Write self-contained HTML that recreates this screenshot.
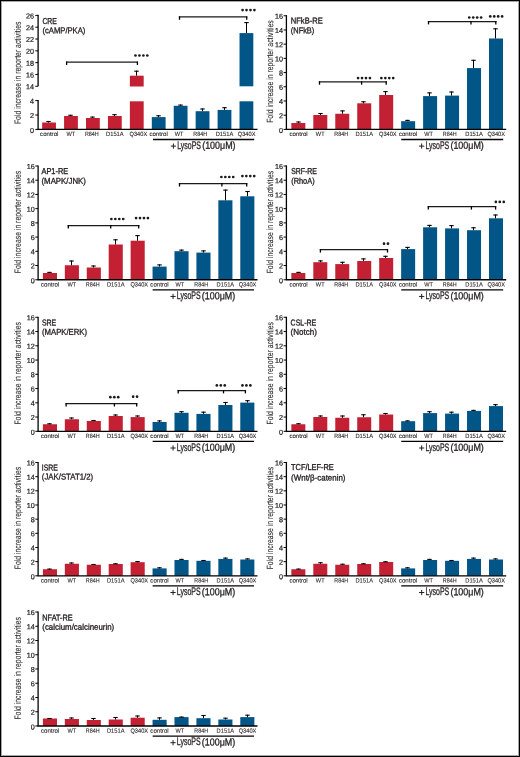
<!DOCTYPE html>
<html><head><meta charset="utf-8"><title>Reporter activities</title>
<style>
html,body{margin:0;padding:0;background:#fff;}
body{width:520px;height:757px;overflow:hidden;position:relative;}
svg{position:absolute;left:0;top:0;display:block;will-change:transform;}
text{font-family:"Liberation Sans", sans-serif;}
</style></head><body>
<svg width="520" height="757" viewBox="0 0 520 757">
<rect x="0" y="0" width="520" height="757" fill="#fff"/>
<rect x="42.15" y="122.50" width="13.80" height="6.90" fill="#c32034"/>
<line x1="48.50" y1="122.50" x2="48.50" y2="121.00" stroke="#000" stroke-width="1.0"/>
<line x1="46.30" y1="121.50" x2="50.70" y2="121.50" stroke="#000" stroke-width="1.1"/>
<rect x="64.08" y="116.00" width="13.80" height="13.40" fill="#c32034"/>
<line x1="70.50" y1="116.00" x2="70.50" y2="114.80" stroke="#000" stroke-width="1.0"/>
<line x1="68.30" y1="115.30" x2="72.70" y2="115.30" stroke="#000" stroke-width="1.1"/>
<rect x="86.01" y="118.00" width="13.80" height="11.40" fill="#c32034"/>
<line x1="92.50" y1="118.00" x2="92.50" y2="116.60" stroke="#000" stroke-width="1.0"/>
<line x1="90.30" y1="117.10" x2="94.70" y2="117.10" stroke="#000" stroke-width="1.1"/>
<rect x="107.94" y="116.00" width="13.80" height="13.40" fill="#c32034"/>
<line x1="114.50" y1="116.00" x2="114.50" y2="114.20" stroke="#000" stroke-width="1.0"/>
<line x1="112.30" y1="114.70" x2="116.70" y2="114.70" stroke="#000" stroke-width="1.1"/>
<rect x="129.87" y="75.70" width="13.80" height="10.80" fill="#c32034"/>
<rect x="129.87" y="101.30" width="13.80" height="28.10" fill="#c32034"/>
<line x1="136.50" y1="75.70" x2="136.50" y2="70.70" stroke="#000" stroke-width="1.0"/>
<line x1="134.30" y1="71.20" x2="138.70" y2="71.20" stroke="#000" stroke-width="1.1"/>
<rect x="151.80" y="117.10" width="13.80" height="12.30" fill="#025687"/>
<line x1="158.50" y1="117.10" x2="158.50" y2="115.30" stroke="#000" stroke-width="1.0"/>
<line x1="156.30" y1="115.80" x2="160.70" y2="115.80" stroke="#000" stroke-width="1.1"/>
<rect x="173.73" y="105.80" width="13.80" height="23.60" fill="#025687"/>
<line x1="180.50" y1="105.80" x2="180.50" y2="104.60" stroke="#000" stroke-width="1.0"/>
<line x1="178.30" y1="105.10" x2="182.70" y2="105.10" stroke="#000" stroke-width="1.1"/>
<rect x="195.66" y="111.20" width="13.80" height="18.20" fill="#025687"/>
<line x1="202.50" y1="111.20" x2="202.50" y2="108.50" stroke="#000" stroke-width="1.0"/>
<line x1="200.30" y1="109.00" x2="204.70" y2="109.00" stroke="#000" stroke-width="1.1"/>
<rect x="217.59" y="109.90" width="13.80" height="19.50" fill="#025687"/>
<line x1="224.50" y1="109.90" x2="224.50" y2="107.20" stroke="#000" stroke-width="1.0"/>
<line x1="222.30" y1="107.70" x2="226.70" y2="107.70" stroke="#000" stroke-width="1.1"/>
<rect x="239.52" y="33.10" width="13.80" height="53.20" fill="#025687"/>
<rect x="239.52" y="101.30" width="13.80" height="28.10" fill="#025687"/>
<line x1="246.50" y1="33.10" x2="246.50" y2="22.10" stroke="#000" stroke-width="1.0"/>
<line x1="244.30" y1="22.60" x2="248.70" y2="22.60" stroke="#000" stroke-width="1.1"/>
<line x1="38.10" y1="14.80" x2="38.10" y2="86.25" stroke="#000" stroke-width="1.3"/>
<line x1="38.10" y1="100.00" x2="38.10" y2="129.40" stroke="#000" stroke-width="1.3"/>
<line x1="35.30" y1="129.40" x2="38.10" y2="129.40" stroke="#000" stroke-width="1.0"/>
<text x="34.10" y="132.95" font-size="7.2" text-anchor="end" fill="#231f20" stroke="#231f20" stroke-width="0.22" transform="rotate(0.04 34.10 132.95)">0</text>
<line x1="35.30" y1="115.00" x2="38.10" y2="115.00" stroke="#000" stroke-width="1.0"/>
<text x="34.10" y="118.05" font-size="7.2" text-anchor="end" fill="#231f20" stroke="#231f20" stroke-width="0.22" transform="rotate(0.04 34.10 118.05)">2</text>
<line x1="35.30" y1="100.60" x2="38.10" y2="100.60" stroke="#000" stroke-width="1.0"/>
<text x="34.10" y="103.65" font-size="7.2" text-anchor="end" fill="#231f20" stroke="#231f20" stroke-width="0.22" transform="rotate(0.04 34.10 103.65)">4</text>
<line x1="35.30" y1="86.25" x2="38.10" y2="86.25" stroke="#000" stroke-width="1.0"/>
<text x="34.10" y="89.30" font-size="7.2" text-anchor="end" fill="#231f20" stroke="#231f20" stroke-width="0.22" transform="rotate(0.04 34.10 89.30)">14</text>
<line x1="35.30" y1="74.44" x2="38.10" y2="74.44" stroke="#000" stroke-width="1.0"/>
<text x="34.10" y="77.49" font-size="7.2" text-anchor="end" fill="#231f20" stroke="#231f20" stroke-width="0.22" transform="rotate(0.04 34.10 77.49)">16</text>
<line x1="35.30" y1="62.63" x2="38.10" y2="62.63" stroke="#000" stroke-width="1.0"/>
<text x="34.10" y="65.68" font-size="7.2" text-anchor="end" fill="#231f20" stroke="#231f20" stroke-width="0.22" transform="rotate(0.04 34.10 65.68)">18</text>
<line x1="35.30" y1="50.83" x2="38.10" y2="50.83" stroke="#000" stroke-width="1.0"/>
<text x="34.10" y="53.88" font-size="7.2" text-anchor="end" fill="#231f20" stroke="#231f20" stroke-width="0.22" transform="rotate(0.04 34.10 53.88)">20</text>
<line x1="35.30" y1="39.02" x2="38.10" y2="39.02" stroke="#000" stroke-width="1.0"/>
<text x="34.10" y="42.07" font-size="7.2" text-anchor="end" fill="#231f20" stroke="#231f20" stroke-width="0.22" transform="rotate(0.04 34.10 42.07)">22</text>
<line x1="35.30" y1="27.21" x2="38.10" y2="27.21" stroke="#000" stroke-width="1.0"/>
<text x="34.10" y="30.26" font-size="7.2" text-anchor="end" fill="#231f20" stroke="#231f20" stroke-width="0.22" transform="rotate(0.04 34.10 30.26)">24</text>
<line x1="35.30" y1="15.40" x2="38.10" y2="15.40" stroke="#000" stroke-width="1.0"/>
<text x="34.10" y="18.45" font-size="7.2" text-anchor="end" fill="#231f20" stroke="#231f20" stroke-width="0.22" transform="rotate(0.04 34.10 18.45)">26</text>
<line x1="37.45" y1="129.40" x2="257.50" y2="129.40" stroke="#000" stroke-width="1.3"/>
<text x="49.25" y="136.10" font-size="6.2" text-anchor="middle" textLength="18.30" lengthAdjust="spacingAndGlyphs" fill="#231f20" stroke="#231f20" stroke-width="0.1" transform="rotate(0.04 49.25 136.10)">control</text>
<text x="70.88" y="136.10" font-size="6.2" text-anchor="middle" textLength="8.70" lengthAdjust="spacingAndGlyphs" fill="#231f20" stroke="#231f20" stroke-width="0.1" transform="rotate(0.04 70.88 136.10)">WT</text>
<text x="91.81" y="136.10" font-size="6.2" text-anchor="middle" textLength="13.80" lengthAdjust="spacingAndGlyphs" fill="#231f20" stroke="#231f20" stroke-width="0.1" transform="rotate(0.04 91.81 136.10)">R84H</text>
<text x="114.84" y="136.10" font-size="6.2" text-anchor="middle" textLength="17.60" lengthAdjust="spacingAndGlyphs" fill="#231f20" stroke="#231f20" stroke-width="0.1" transform="rotate(0.04 114.84 136.10)">D151A</text>
<text x="138.37" y="136.10" font-size="6.2" text-anchor="middle" textLength="17.60" lengthAdjust="spacingAndGlyphs" fill="#231f20" stroke="#231f20" stroke-width="0.1" transform="rotate(0.04 138.37 136.10)">Q340X</text>
<text x="158.60" y="136.10" font-size="6.2" text-anchor="middle" textLength="18.30" lengthAdjust="spacingAndGlyphs" fill="#231f20" stroke="#231f20" stroke-width="0.1" transform="rotate(0.04 158.60 136.10)">control</text>
<text x="179.03" y="136.10" font-size="6.2" text-anchor="middle" textLength="8.70" lengthAdjust="spacingAndGlyphs" fill="#231f20" stroke="#231f20" stroke-width="0.1" transform="rotate(0.04 179.03 136.10)">WT</text>
<text x="200.26" y="136.10" font-size="6.2" text-anchor="middle" textLength="13.80" lengthAdjust="spacingAndGlyphs" fill="#231f20" stroke="#231f20" stroke-width="0.1" transform="rotate(0.04 200.26 136.10)">R84H</text>
<text x="224.49" y="136.10" font-size="6.2" text-anchor="middle" textLength="17.60" lengthAdjust="spacingAndGlyphs" fill="#231f20" stroke="#231f20" stroke-width="0.1" transform="rotate(0.04 224.49 136.10)">D151A</text>
<text x="246.62" y="136.10" font-size="6.2" text-anchor="middle" textLength="17.60" lengthAdjust="spacingAndGlyphs" fill="#231f20" stroke="#231f20" stroke-width="0.1" transform="rotate(0.04 246.62 136.10)">Q340X</text>
<line x1="153.00" y1="139.50" x2="254.22" y2="139.50" stroke="#000" stroke-width="1.3"/>
<line x1="170.80" y1="146.10" x2="176.00" y2="146.10" stroke="#231f20" stroke-width="1.0"/>
<line x1="173.40" y1="143.50" x2="173.40" y2="148.70" stroke="#231f20" stroke-width="1.0"/>
<text x="177.20" y="148.80" font-size="10.9" text-anchor="start" textLength="23.80" lengthAdjust="spacingAndGlyphs" fill="#231f20" stroke="#231f20" stroke-width="0.3" transform="rotate(0.04 177.20 148.80)">LysoPS</text>
<text x="202.20" y="148.80" font-size="10.2" text-anchor="start" textLength="33.40" lengthAdjust="spacingAndGlyphs" fill="#231f20" stroke="#231f20" stroke-width="0.3" transform="rotate(0.04 202.20 148.80)">(100μM)</text>
<text transform="translate(20.70,72.85) rotate(-89.96)" x="0" y="0" font-size="9.0" text-anchor="middle" textLength="102.5" lengthAdjust="spacingAndGlyphs" fill="#2a2a2a" stroke="#2a2a2a" stroke-width="0.1">Fold increase in reporter activities</text>
<text x="42.40" y="23.90" font-size="8.6" text-anchor="start" textLength="14.40" lengthAdjust="spacingAndGlyphs" fill="#231f20" stroke="#231f20" stroke-width="0.35" transform="rotate(0.04 42.40 23.90)">CRE</text>
<text x="42.40" y="33.30" font-size="8.4" text-anchor="start" textLength="43.00" lengthAdjust="spacingAndGlyphs" fill="#231f20" stroke="#231f20" stroke-width="0.32" transform="rotate(0.04 42.40 33.30)">(cAMP/PKA)</text>
<line x1="66.00" y1="62.10" x2="138.00" y2="62.10" stroke="#1a1a1a" stroke-width="1.25"/>
<line x1="66.60" y1="61.60" x2="66.60" y2="65.00" stroke="#000" stroke-width="1.3"/>
<line x1="137.40" y1="61.60" x2="137.40" y2="65.00" stroke="#000" stroke-width="1.3"/>
<line x1="178.90" y1="16.90" x2="247.30" y2="16.90" stroke="#1a1a1a" stroke-width="1.25"/>
<line x1="179.50" y1="16.40" x2="179.50" y2="19.80" stroke="#000" stroke-width="1.3"/>
<line x1="246.70" y1="16.40" x2="246.70" y2="19.80" stroke="#000" stroke-width="1.3"/>
<circle cx="135.47" cy="55.50" r="1.35" fill="#1a1a1a"/>
<circle cx="139.42" cy="55.50" r="1.35" fill="#1a1a1a"/>
<circle cx="143.38" cy="55.50" r="1.35" fill="#1a1a1a"/>
<circle cx="147.32" cy="55.50" r="1.35" fill="#1a1a1a"/>
<circle cx="242.57" cy="10.10" r="1.35" fill="#1a1a1a"/>
<circle cx="246.52" cy="10.10" r="1.35" fill="#1a1a1a"/>
<circle cx="250.47" cy="10.10" r="1.35" fill="#1a1a1a"/>
<circle cx="254.42" cy="10.10" r="1.35" fill="#1a1a1a"/>
<rect x="291.35" y="123.00" width="14.00" height="6.40" fill="#c32034"/>
<line x1="298.50" y1="123.00" x2="298.50" y2="121.50" stroke="#000" stroke-width="1.0"/>
<line x1="296.30" y1="122.00" x2="300.70" y2="122.00" stroke="#000" stroke-width="1.1"/>
<rect x="313.31" y="115.00" width="14.00" height="14.40" fill="#c32034"/>
<line x1="320.50" y1="115.00" x2="320.50" y2="113.00" stroke="#000" stroke-width="1.0"/>
<line x1="318.30" y1="113.50" x2="322.70" y2="113.50" stroke="#000" stroke-width="1.1"/>
<rect x="335.27" y="113.75" width="14.00" height="15.65" fill="#c32034"/>
<line x1="342.50" y1="113.75" x2="342.50" y2="110.40" stroke="#000" stroke-width="1.0"/>
<line x1="340.30" y1="110.90" x2="344.70" y2="110.90" stroke="#000" stroke-width="1.1"/>
<rect x="357.23" y="103.30" width="14.00" height="26.10" fill="#c32034"/>
<line x1="363.50" y1="103.30" x2="363.50" y2="101.30" stroke="#000" stroke-width="1.0"/>
<line x1="361.30" y1="101.80" x2="365.70" y2="101.80" stroke="#000" stroke-width="1.1"/>
<rect x="379.19" y="95.00" width="14.00" height="34.40" fill="#c32034"/>
<line x1="385.50" y1="95.00" x2="385.50" y2="91.10" stroke="#000" stroke-width="1.0"/>
<line x1="383.30" y1="91.60" x2="387.70" y2="91.60" stroke="#000" stroke-width="1.1"/>
<rect x="401.15" y="121.20" width="14.00" height="8.20" fill="#025687"/>
<line x1="407.50" y1="121.20" x2="407.50" y2="119.90" stroke="#000" stroke-width="1.0"/>
<line x1="405.30" y1="120.40" x2="409.70" y2="120.40" stroke="#000" stroke-width="1.1"/>
<rect x="423.11" y="96.10" width="14.00" height="33.30" fill="#025687"/>
<line x1="429.50" y1="96.10" x2="429.50" y2="92.40" stroke="#000" stroke-width="1.0"/>
<line x1="427.30" y1="92.90" x2="431.70" y2="92.90" stroke="#000" stroke-width="1.1"/>
<rect x="445.07" y="95.60" width="14.00" height="33.80" fill="#025687"/>
<line x1="451.50" y1="95.60" x2="451.50" y2="91.50" stroke="#000" stroke-width="1.0"/>
<line x1="449.30" y1="92.00" x2="453.70" y2="92.00" stroke="#000" stroke-width="1.1"/>
<rect x="467.03" y="68.10" width="14.00" height="61.30" fill="#025687"/>
<line x1="473.50" y1="68.10" x2="473.50" y2="59.80" stroke="#000" stroke-width="1.0"/>
<line x1="471.30" y1="60.30" x2="475.70" y2="60.30" stroke="#000" stroke-width="1.1"/>
<rect x="488.99" y="38.50" width="14.00" height="90.90" fill="#025687"/>
<line x1="495.50" y1="38.50" x2="495.50" y2="28.30" stroke="#000" stroke-width="1.0"/>
<line x1="493.30" y1="28.80" x2="497.70" y2="28.80" stroke="#000" stroke-width="1.1"/>
<line x1="286.40" y1="15.15" x2="286.40" y2="129.40" stroke="#000" stroke-width="1.3"/>
<line x1="283.60" y1="129.40" x2="286.40" y2="129.40" stroke="#000" stroke-width="1.0"/>
<text x="283.00" y="132.95" font-size="7.2" text-anchor="end" fill="#231f20" stroke="#231f20" stroke-width="0.22" transform="rotate(0.04 283.00 132.95)">0</text>
<line x1="283.60" y1="115.19" x2="286.40" y2="115.19" stroke="#000" stroke-width="1.0"/>
<text x="283.00" y="118.24" font-size="7.2" text-anchor="end" fill="#231f20" stroke="#231f20" stroke-width="0.22" transform="rotate(0.04 283.00 118.24)">2</text>
<line x1="283.60" y1="100.99" x2="286.40" y2="100.99" stroke="#000" stroke-width="1.0"/>
<text x="283.00" y="104.04" font-size="7.2" text-anchor="end" fill="#231f20" stroke="#231f20" stroke-width="0.22" transform="rotate(0.04 283.00 104.04)">4</text>
<line x1="283.60" y1="86.78" x2="286.40" y2="86.78" stroke="#000" stroke-width="1.0"/>
<text x="283.00" y="89.83" font-size="7.2" text-anchor="end" fill="#231f20" stroke="#231f20" stroke-width="0.22" transform="rotate(0.04 283.00 89.83)">6</text>
<line x1="283.60" y1="72.58" x2="286.40" y2="72.58" stroke="#000" stroke-width="1.0"/>
<text x="283.00" y="75.62" font-size="7.2" text-anchor="end" fill="#231f20" stroke="#231f20" stroke-width="0.22" transform="rotate(0.04 283.00 75.62)">8</text>
<line x1="283.60" y1="58.37" x2="286.40" y2="58.37" stroke="#000" stroke-width="1.0"/>
<text x="283.00" y="61.42" font-size="7.2" text-anchor="end" fill="#231f20" stroke="#231f20" stroke-width="0.22" transform="rotate(0.04 283.00 61.42)">10</text>
<line x1="283.60" y1="44.16" x2="286.40" y2="44.16" stroke="#000" stroke-width="1.0"/>
<text x="283.00" y="47.21" font-size="7.2" text-anchor="end" fill="#231f20" stroke="#231f20" stroke-width="0.22" transform="rotate(0.04 283.00 47.21)">12</text>
<line x1="283.60" y1="29.96" x2="286.40" y2="29.96" stroke="#000" stroke-width="1.0"/>
<text x="283.00" y="33.01" font-size="7.2" text-anchor="end" fill="#231f20" stroke="#231f20" stroke-width="0.22" transform="rotate(0.04 283.00 33.01)">14</text>
<line x1="283.60" y1="15.75" x2="286.40" y2="15.75" stroke="#000" stroke-width="1.0"/>
<text x="283.00" y="18.80" font-size="7.2" text-anchor="end" fill="#231f20" stroke="#231f20" stroke-width="0.22" transform="rotate(0.04 283.00 18.80)">16</text>
<line x1="285.75" y1="129.40" x2="506.20" y2="129.40" stroke="#000" stroke-width="1.3"/>
<text x="298.55" y="136.10" font-size="6.2" text-anchor="middle" textLength="18.30" lengthAdjust="spacingAndGlyphs" fill="#231f20" stroke="#231f20" stroke-width="0.1" transform="rotate(0.04 298.55 136.10)">control</text>
<text x="320.21" y="136.10" font-size="6.2" text-anchor="middle" textLength="8.70" lengthAdjust="spacingAndGlyphs" fill="#231f20" stroke="#231f20" stroke-width="0.1" transform="rotate(0.04 320.21 136.10)">WT</text>
<text x="341.17" y="136.10" font-size="6.2" text-anchor="middle" textLength="13.80" lengthAdjust="spacingAndGlyphs" fill="#231f20" stroke="#231f20" stroke-width="0.1" transform="rotate(0.04 341.17 136.10)">R84H</text>
<text x="364.23" y="136.10" font-size="6.2" text-anchor="middle" textLength="17.60" lengthAdjust="spacingAndGlyphs" fill="#231f20" stroke="#231f20" stroke-width="0.1" transform="rotate(0.04 364.23 136.10)">D151A</text>
<text x="387.79" y="136.10" font-size="6.2" text-anchor="middle" textLength="17.60" lengthAdjust="spacingAndGlyphs" fill="#231f20" stroke="#231f20" stroke-width="0.1" transform="rotate(0.04 387.79 136.10)">Q340X</text>
<text x="408.05" y="136.10" font-size="6.2" text-anchor="middle" textLength="18.30" lengthAdjust="spacingAndGlyphs" fill="#231f20" stroke="#231f20" stroke-width="0.1" transform="rotate(0.04 408.05 136.10)">control</text>
<text x="428.51" y="136.10" font-size="6.2" text-anchor="middle" textLength="8.70" lengthAdjust="spacingAndGlyphs" fill="#231f20" stroke="#231f20" stroke-width="0.1" transform="rotate(0.04 428.51 136.10)">WT</text>
<text x="449.77" y="136.10" font-size="6.2" text-anchor="middle" textLength="13.80" lengthAdjust="spacingAndGlyphs" fill="#231f20" stroke="#231f20" stroke-width="0.1" transform="rotate(0.04 449.77 136.10)">R84H</text>
<text x="474.03" y="136.10" font-size="6.2" text-anchor="middle" textLength="17.60" lengthAdjust="spacingAndGlyphs" fill="#231f20" stroke="#231f20" stroke-width="0.1" transform="rotate(0.04 474.03 136.10)">D151A</text>
<text x="496.19" y="136.10" font-size="6.2" text-anchor="middle" textLength="17.60" lengthAdjust="spacingAndGlyphs" fill="#231f20" stroke="#231f20" stroke-width="0.1" transform="rotate(0.04 496.19 136.10)">Q340X</text>
<line x1="401.25" y1="139.50" x2="503.19" y2="139.50" stroke="#000" stroke-width="1.3"/>
<line x1="419.05" y1="146.10" x2="424.25" y2="146.10" stroke="#231f20" stroke-width="1.0"/>
<line x1="421.65" y1="143.50" x2="421.65" y2="148.70" stroke="#231f20" stroke-width="1.0"/>
<text x="425.45" y="148.80" font-size="10.9" text-anchor="start" textLength="23.80" lengthAdjust="spacingAndGlyphs" fill="#231f20" stroke="#231f20" stroke-width="0.3" transform="rotate(0.04 425.45 148.80)">LysoPS</text>
<text x="450.45" y="148.80" font-size="10.2" text-anchor="start" textLength="33.40" lengthAdjust="spacingAndGlyphs" fill="#231f20" stroke="#231f20" stroke-width="0.3" transform="rotate(0.04 450.45 148.80)">(100μM)</text>
<text transform="translate(273.10,71.60) rotate(-89.96)" x="0" y="0" font-size="9.0" text-anchor="middle" textLength="102.5" lengthAdjust="spacingAndGlyphs" fill="#2a2a2a" stroke="#2a2a2a" stroke-width="0.1">Fold increase in reporter activities</text>
<text x="290.80" y="23.60" font-size="8.6" text-anchor="start" textLength="31.90" lengthAdjust="spacingAndGlyphs" fill="#231f20" stroke="#231f20" stroke-width="0.35" transform="rotate(0.04 290.80 23.60)">NFkB-RE</text>
<text x="290.80" y="33.20" font-size="8.4" text-anchor="start" textLength="23.50" lengthAdjust="spacingAndGlyphs" fill="#231f20" stroke="#231f20" stroke-width="0.32" transform="rotate(0.04 290.80 33.20)">(NFkB)</text>
<line x1="318.90" y1="81.80" x2="386.80" y2="81.80" stroke="#1a1a1a" stroke-width="1.25"/>
<line x1="319.50" y1="81.30" x2="319.50" y2="84.70" stroke="#000" stroke-width="1.3"/>
<line x1="361.60" y1="81.30" x2="361.60" y2="84.70" stroke="#000" stroke-width="1.3"/>
<line x1="386.20" y1="81.30" x2="386.20" y2="84.70" stroke="#000" stroke-width="1.3"/>
<line x1="427.90" y1="21.50" x2="496.40" y2="21.50" stroke="#1a1a1a" stroke-width="1.25"/>
<line x1="428.50" y1="21.00" x2="428.50" y2="24.40" stroke="#000" stroke-width="1.3"/>
<line x1="471.00" y1="21.00" x2="471.00" y2="24.40" stroke="#000" stroke-width="1.3"/>
<line x1="495.80" y1="21.00" x2="495.80" y2="24.40" stroke="#000" stroke-width="1.3"/>
<circle cx="358.07" cy="78.10" r="1.35" fill="#1a1a1a"/>
<circle cx="362.02" cy="78.10" r="1.35" fill="#1a1a1a"/>
<circle cx="365.97" cy="78.10" r="1.35" fill="#1a1a1a"/>
<circle cx="369.93" cy="78.10" r="1.35" fill="#1a1a1a"/>
<circle cx="381.38" cy="78.10" r="1.35" fill="#1a1a1a"/>
<circle cx="385.32" cy="78.10" r="1.35" fill="#1a1a1a"/>
<circle cx="389.27" cy="78.10" r="1.35" fill="#1a1a1a"/>
<circle cx="393.23" cy="78.10" r="1.35" fill="#1a1a1a"/>
<circle cx="469.27" cy="17.50" r="1.35" fill="#1a1a1a"/>
<circle cx="473.22" cy="17.50" r="1.35" fill="#1a1a1a"/>
<circle cx="477.17" cy="17.50" r="1.35" fill="#1a1a1a"/>
<circle cx="481.12" cy="17.50" r="1.35" fill="#1a1a1a"/>
<circle cx="490.27" cy="16.40" r="1.35" fill="#1a1a1a"/>
<circle cx="494.22" cy="16.40" r="1.35" fill="#1a1a1a"/>
<circle cx="498.17" cy="16.40" r="1.35" fill="#1a1a1a"/>
<circle cx="502.12" cy="16.40" r="1.35" fill="#1a1a1a"/>
<rect x="42.90" y="273.00" width="14.10" height="6.75" fill="#c32034"/>
<line x1="49.50" y1="273.00" x2="49.50" y2="271.90" stroke="#000" stroke-width="1.0"/>
<line x1="47.30" y1="272.40" x2="51.70" y2="272.40" stroke="#000" stroke-width="1.1"/>
<rect x="64.83" y="265.25" width="14.10" height="14.50" fill="#c32034"/>
<line x1="71.50" y1="265.25" x2="71.50" y2="260.50" stroke="#000" stroke-width="1.0"/>
<line x1="69.30" y1="261.00" x2="73.70" y2="261.00" stroke="#000" stroke-width="1.1"/>
<rect x="86.76" y="267.50" width="14.10" height="12.25" fill="#c32034"/>
<line x1="93.50" y1="267.50" x2="93.50" y2="265.50" stroke="#000" stroke-width="1.0"/>
<line x1="91.30" y1="266.00" x2="95.70" y2="266.00" stroke="#000" stroke-width="1.1"/>
<rect x="108.69" y="244.50" width="14.10" height="35.25" fill="#c32034"/>
<line x1="115.50" y1="244.50" x2="115.50" y2="239.30" stroke="#000" stroke-width="1.0"/>
<line x1="113.30" y1="239.80" x2="117.70" y2="239.80" stroke="#000" stroke-width="1.1"/>
<rect x="130.62" y="240.70" width="14.10" height="39.05" fill="#c32034"/>
<line x1="137.50" y1="240.70" x2="137.50" y2="235.10" stroke="#000" stroke-width="1.0"/>
<line x1="135.30" y1="235.60" x2="139.70" y2="235.60" stroke="#000" stroke-width="1.1"/>
<rect x="152.55" y="266.60" width="14.10" height="13.15" fill="#025687"/>
<line x1="159.50" y1="266.60" x2="159.50" y2="264.40" stroke="#000" stroke-width="1.0"/>
<line x1="157.30" y1="264.90" x2="161.70" y2="264.90" stroke="#000" stroke-width="1.1"/>
<rect x="174.48" y="251.20" width="14.10" height="28.55" fill="#025687"/>
<line x1="181.50" y1="251.20" x2="181.50" y2="249.60" stroke="#000" stroke-width="1.0"/>
<line x1="179.30" y1="250.10" x2="183.70" y2="250.10" stroke="#000" stroke-width="1.1"/>
<rect x="196.41" y="252.60" width="14.10" height="27.15" fill="#025687"/>
<line x1="203.50" y1="252.60" x2="203.50" y2="250.40" stroke="#000" stroke-width="1.0"/>
<line x1="201.30" y1="250.90" x2="205.70" y2="250.90" stroke="#000" stroke-width="1.1"/>
<rect x="218.34" y="200.30" width="14.10" height="79.45" fill="#025687"/>
<line x1="225.50" y1="200.30" x2="225.50" y2="189.60" stroke="#000" stroke-width="1.0"/>
<line x1="223.30" y1="190.10" x2="227.70" y2="190.10" stroke="#000" stroke-width="1.1"/>
<rect x="240.27" y="196.30" width="14.10" height="83.45" fill="#025687"/>
<line x1="247.50" y1="196.30" x2="247.50" y2="191.00" stroke="#000" stroke-width="1.0"/>
<line x1="245.30" y1="191.50" x2="249.70" y2="191.50" stroke="#000" stroke-width="1.1"/>
<line x1="38.10" y1="165.40" x2="38.10" y2="279.75" stroke="#000" stroke-width="1.3"/>
<line x1="35.30" y1="279.75" x2="38.10" y2="279.75" stroke="#000" stroke-width="1.0"/>
<text x="34.70" y="283.30" font-size="7.2" text-anchor="end" fill="#231f20" stroke="#231f20" stroke-width="0.22" transform="rotate(0.04 34.70 283.30)">0</text>
<line x1="35.30" y1="265.53" x2="38.10" y2="265.53" stroke="#000" stroke-width="1.0"/>
<text x="34.70" y="268.58" font-size="7.2" text-anchor="end" fill="#231f20" stroke="#231f20" stroke-width="0.22" transform="rotate(0.04 34.70 268.58)">2</text>
<line x1="35.30" y1="251.31" x2="38.10" y2="251.31" stroke="#000" stroke-width="1.0"/>
<text x="34.70" y="254.36" font-size="7.2" text-anchor="end" fill="#231f20" stroke="#231f20" stroke-width="0.22" transform="rotate(0.04 34.70 254.36)">4</text>
<line x1="35.30" y1="237.09" x2="38.10" y2="237.09" stroke="#000" stroke-width="1.0"/>
<text x="34.70" y="240.14" font-size="7.2" text-anchor="end" fill="#231f20" stroke="#231f20" stroke-width="0.22" transform="rotate(0.04 34.70 240.14)">6</text>
<line x1="35.30" y1="222.88" x2="38.10" y2="222.88" stroke="#000" stroke-width="1.0"/>
<text x="34.70" y="225.93" font-size="7.2" text-anchor="end" fill="#231f20" stroke="#231f20" stroke-width="0.22" transform="rotate(0.04 34.70 225.93)">8</text>
<line x1="35.30" y1="208.66" x2="38.10" y2="208.66" stroke="#000" stroke-width="1.0"/>
<text x="34.70" y="211.71" font-size="7.2" text-anchor="end" fill="#231f20" stroke="#231f20" stroke-width="0.22" transform="rotate(0.04 34.70 211.71)">10</text>
<line x1="35.30" y1="194.44" x2="38.10" y2="194.44" stroke="#000" stroke-width="1.0"/>
<text x="34.70" y="197.49" font-size="7.2" text-anchor="end" fill="#231f20" stroke="#231f20" stroke-width="0.22" transform="rotate(0.04 34.70 197.49)">12</text>
<line x1="35.30" y1="180.22" x2="38.10" y2="180.22" stroke="#000" stroke-width="1.0"/>
<text x="34.70" y="183.27" font-size="7.2" text-anchor="end" fill="#231f20" stroke="#231f20" stroke-width="0.22" transform="rotate(0.04 34.70 183.27)">14</text>
<line x1="35.30" y1="166.00" x2="38.10" y2="166.00" stroke="#000" stroke-width="1.0"/>
<text x="34.70" y="169.05" font-size="7.2" text-anchor="end" fill="#231f20" stroke="#231f20" stroke-width="0.22" transform="rotate(0.04 34.70 169.05)">16</text>
<line x1="37.45" y1="279.75" x2="257.50" y2="279.75" stroke="#000" stroke-width="1.3"/>
<text x="50.15" y="286.45" font-size="6.2" text-anchor="middle" textLength="18.30" lengthAdjust="spacingAndGlyphs" fill="#231f20" stroke="#231f20" stroke-width="0.1" transform="rotate(0.04 50.15 286.45)">control</text>
<text x="71.78" y="286.45" font-size="6.2" text-anchor="middle" textLength="8.70" lengthAdjust="spacingAndGlyphs" fill="#231f20" stroke="#231f20" stroke-width="0.1" transform="rotate(0.04 71.78 286.45)">WT</text>
<text x="92.71" y="286.45" font-size="6.2" text-anchor="middle" textLength="13.80" lengthAdjust="spacingAndGlyphs" fill="#231f20" stroke="#231f20" stroke-width="0.1" transform="rotate(0.04 92.71 286.45)">R84H</text>
<text x="115.74" y="286.45" font-size="6.2" text-anchor="middle" textLength="17.60" lengthAdjust="spacingAndGlyphs" fill="#231f20" stroke="#231f20" stroke-width="0.1" transform="rotate(0.04 115.74 286.45)">D151A</text>
<text x="139.27" y="286.45" font-size="6.2" text-anchor="middle" textLength="17.60" lengthAdjust="spacingAndGlyphs" fill="#231f20" stroke="#231f20" stroke-width="0.1" transform="rotate(0.04 139.27 286.45)">Q340X</text>
<text x="159.50" y="286.45" font-size="6.2" text-anchor="middle" textLength="18.30" lengthAdjust="spacingAndGlyphs" fill="#231f20" stroke="#231f20" stroke-width="0.1" transform="rotate(0.04 159.50 286.45)">control</text>
<text x="179.93" y="286.45" font-size="6.2" text-anchor="middle" textLength="8.70" lengthAdjust="spacingAndGlyphs" fill="#231f20" stroke="#231f20" stroke-width="0.1" transform="rotate(0.04 179.93 286.45)">WT</text>
<text x="201.16" y="286.45" font-size="6.2" text-anchor="middle" textLength="13.80" lengthAdjust="spacingAndGlyphs" fill="#231f20" stroke="#231f20" stroke-width="0.1" transform="rotate(0.04 201.16 286.45)">R84H</text>
<text x="225.39" y="286.45" font-size="6.2" text-anchor="middle" textLength="17.60" lengthAdjust="spacingAndGlyphs" fill="#231f20" stroke="#231f20" stroke-width="0.1" transform="rotate(0.04 225.39 286.45)">D151A</text>
<text x="247.52" y="286.45" font-size="6.2" text-anchor="middle" textLength="17.60" lengthAdjust="spacingAndGlyphs" fill="#231f20" stroke="#231f20" stroke-width="0.1" transform="rotate(0.04 247.52 286.45)">Q340X</text>
<line x1="152.65" y1="289.85" x2="253.97" y2="289.85" stroke="#000" stroke-width="1.3"/>
<line x1="170.45" y1="296.45" x2="175.65" y2="296.45" stroke="#231f20" stroke-width="1.0"/>
<line x1="173.05" y1="293.85" x2="173.05" y2="299.05" stroke="#231f20" stroke-width="1.0"/>
<text x="176.85" y="299.15" font-size="10.9" text-anchor="start" textLength="23.80" lengthAdjust="spacingAndGlyphs" fill="#231f20" stroke="#231f20" stroke-width="0.3" transform="rotate(0.04 176.85 299.15)">LysoPS</text>
<text x="201.85" y="299.15" font-size="10.2" text-anchor="start" textLength="33.40" lengthAdjust="spacingAndGlyphs" fill="#231f20" stroke="#231f20" stroke-width="0.3" transform="rotate(0.04 201.85 299.15)">(100μM)</text>
<text transform="translate(20.70,221.95) rotate(-89.96)" x="0" y="0" font-size="9.0" text-anchor="middle" textLength="102.5" lengthAdjust="spacingAndGlyphs" fill="#2a2a2a" stroke="#2a2a2a" stroke-width="0.1">Fold increase in reporter activities</text>
<text x="41.50" y="174.10" font-size="8.6" text-anchor="start" textLength="26.70" lengthAdjust="spacingAndGlyphs" fill="#231f20" stroke="#231f20" stroke-width="0.35" transform="rotate(0.04 41.50 174.10)">AP1-RE</text>
<text x="41.50" y="183.70" font-size="8.4" text-anchor="start" textLength="44.40" lengthAdjust="spacingAndGlyphs" fill="#231f20" stroke="#231f20" stroke-width="0.32" transform="rotate(0.04 41.50 183.70)">(MAPK/JNK)</text>
<line x1="67.70" y1="225.60" x2="139.30" y2="225.60" stroke="#1a1a1a" stroke-width="1.25"/>
<line x1="68.30" y1="225.10" x2="68.30" y2="228.50" stroke="#000" stroke-width="1.3"/>
<line x1="110.70" y1="225.10" x2="110.70" y2="228.50" stroke="#000" stroke-width="1.3"/>
<line x1="138.70" y1="225.10" x2="138.70" y2="228.50" stroke="#000" stroke-width="1.3"/>
<line x1="178.90" y1="183.60" x2="247.30" y2="183.60" stroke="#1a1a1a" stroke-width="1.25"/>
<line x1="179.50" y1="183.10" x2="179.50" y2="186.50" stroke="#000" stroke-width="1.3"/>
<line x1="221.90" y1="183.10" x2="221.90" y2="186.50" stroke="#000" stroke-width="1.3"/>
<line x1="246.70" y1="183.10" x2="246.70" y2="186.50" stroke="#000" stroke-width="1.3"/>
<circle cx="111.38" cy="219.00" r="1.35" fill="#1a1a1a"/>
<circle cx="115.33" cy="219.00" r="1.35" fill="#1a1a1a"/>
<circle cx="119.28" cy="219.00" r="1.35" fill="#1a1a1a"/>
<circle cx="123.22" cy="219.00" r="1.35" fill="#1a1a1a"/>
<circle cx="136.07" cy="218.10" r="1.35" fill="#1a1a1a"/>
<circle cx="140.02" cy="218.10" r="1.35" fill="#1a1a1a"/>
<circle cx="143.97" cy="218.10" r="1.35" fill="#1a1a1a"/>
<circle cx="147.92" cy="218.10" r="1.35" fill="#1a1a1a"/>
<circle cx="221.38" cy="177.00" r="1.35" fill="#1a1a1a"/>
<circle cx="225.32" cy="177.00" r="1.35" fill="#1a1a1a"/>
<circle cx="229.28" cy="177.00" r="1.35" fill="#1a1a1a"/>
<circle cx="233.22" cy="177.00" r="1.35" fill="#1a1a1a"/>
<circle cx="242.38" cy="176.10" r="1.35" fill="#1a1a1a"/>
<circle cx="246.32" cy="176.10" r="1.35" fill="#1a1a1a"/>
<circle cx="250.28" cy="176.10" r="1.35" fill="#1a1a1a"/>
<circle cx="254.22" cy="176.10" r="1.35" fill="#1a1a1a"/>
<rect x="291.35" y="273.00" width="14.00" height="6.75" fill="#c32034"/>
<line x1="298.50" y1="273.00" x2="298.50" y2="271.90" stroke="#000" stroke-width="1.0"/>
<line x1="296.30" y1="272.40" x2="300.70" y2="272.40" stroke="#000" stroke-width="1.1"/>
<rect x="313.31" y="262.20" width="14.00" height="17.55" fill="#c32034"/>
<line x1="320.50" y1="262.20" x2="320.50" y2="260.40" stroke="#000" stroke-width="1.0"/>
<line x1="318.30" y1="260.90" x2="322.70" y2="260.90" stroke="#000" stroke-width="1.1"/>
<rect x="335.27" y="264.10" width="14.00" height="15.65" fill="#c32034"/>
<line x1="342.50" y1="264.10" x2="342.50" y2="261.80" stroke="#000" stroke-width="1.0"/>
<line x1="340.30" y1="262.30" x2="344.70" y2="262.30" stroke="#000" stroke-width="1.1"/>
<rect x="357.23" y="261.00" width="14.00" height="18.75" fill="#c32034"/>
<line x1="363.50" y1="261.00" x2="363.50" y2="258.40" stroke="#000" stroke-width="1.0"/>
<line x1="361.30" y1="258.90" x2="365.70" y2="258.90" stroke="#000" stroke-width="1.1"/>
<rect x="379.19" y="258.00" width="14.00" height="21.75" fill="#c32034"/>
<line x1="385.50" y1="258.00" x2="385.50" y2="255.80" stroke="#000" stroke-width="1.0"/>
<line x1="383.30" y1="256.30" x2="387.70" y2="256.30" stroke="#000" stroke-width="1.1"/>
<rect x="401.15" y="249.10" width="14.00" height="30.65" fill="#025687"/>
<line x1="407.50" y1="249.10" x2="407.50" y2="246.90" stroke="#000" stroke-width="1.0"/>
<line x1="405.30" y1="247.40" x2="409.70" y2="247.40" stroke="#000" stroke-width="1.1"/>
<rect x="423.11" y="227.30" width="14.00" height="52.45" fill="#025687"/>
<line x1="429.50" y1="227.30" x2="429.50" y2="224.90" stroke="#000" stroke-width="1.0"/>
<line x1="427.30" y1="225.40" x2="431.70" y2="225.40" stroke="#000" stroke-width="1.1"/>
<rect x="445.07" y="228.40" width="14.00" height="51.35" fill="#025687"/>
<line x1="451.50" y1="228.40" x2="451.50" y2="225.10" stroke="#000" stroke-width="1.0"/>
<line x1="449.30" y1="225.60" x2="453.70" y2="225.60" stroke="#000" stroke-width="1.1"/>
<rect x="467.03" y="230.20" width="14.00" height="49.55" fill="#025687"/>
<line x1="473.50" y1="230.20" x2="473.50" y2="227.30" stroke="#000" stroke-width="1.0"/>
<line x1="471.30" y1="227.80" x2="475.70" y2="227.80" stroke="#000" stroke-width="1.1"/>
<rect x="488.99" y="218.30" width="14.00" height="61.45" fill="#025687"/>
<line x1="495.50" y1="218.30" x2="495.50" y2="214.50" stroke="#000" stroke-width="1.0"/>
<line x1="493.30" y1="215.00" x2="497.70" y2="215.00" stroke="#000" stroke-width="1.1"/>
<line x1="286.40" y1="165.40" x2="286.40" y2="279.75" stroke="#000" stroke-width="1.3"/>
<line x1="283.60" y1="279.75" x2="286.40" y2="279.75" stroke="#000" stroke-width="1.0"/>
<text x="283.00" y="283.30" font-size="7.2" text-anchor="end" fill="#231f20" stroke="#231f20" stroke-width="0.22" transform="rotate(0.04 283.00 283.30)">0</text>
<line x1="283.60" y1="265.53" x2="286.40" y2="265.53" stroke="#000" stroke-width="1.0"/>
<text x="283.00" y="268.58" font-size="7.2" text-anchor="end" fill="#231f20" stroke="#231f20" stroke-width="0.22" transform="rotate(0.04 283.00 268.58)">2</text>
<line x1="283.60" y1="251.31" x2="286.40" y2="251.31" stroke="#000" stroke-width="1.0"/>
<text x="283.00" y="254.36" font-size="7.2" text-anchor="end" fill="#231f20" stroke="#231f20" stroke-width="0.22" transform="rotate(0.04 283.00 254.36)">4</text>
<line x1="283.60" y1="237.09" x2="286.40" y2="237.09" stroke="#000" stroke-width="1.0"/>
<text x="283.00" y="240.14" font-size="7.2" text-anchor="end" fill="#231f20" stroke="#231f20" stroke-width="0.22" transform="rotate(0.04 283.00 240.14)">6</text>
<line x1="283.60" y1="222.88" x2="286.40" y2="222.88" stroke="#000" stroke-width="1.0"/>
<text x="283.00" y="225.93" font-size="7.2" text-anchor="end" fill="#231f20" stroke="#231f20" stroke-width="0.22" transform="rotate(0.04 283.00 225.93)">8</text>
<line x1="283.60" y1="208.66" x2="286.40" y2="208.66" stroke="#000" stroke-width="1.0"/>
<text x="283.00" y="211.71" font-size="7.2" text-anchor="end" fill="#231f20" stroke="#231f20" stroke-width="0.22" transform="rotate(0.04 283.00 211.71)">10</text>
<line x1="283.60" y1="194.44" x2="286.40" y2="194.44" stroke="#000" stroke-width="1.0"/>
<text x="283.00" y="197.49" font-size="7.2" text-anchor="end" fill="#231f20" stroke="#231f20" stroke-width="0.22" transform="rotate(0.04 283.00 197.49)">12</text>
<line x1="283.60" y1="180.22" x2="286.40" y2="180.22" stroke="#000" stroke-width="1.0"/>
<text x="283.00" y="183.27" font-size="7.2" text-anchor="end" fill="#231f20" stroke="#231f20" stroke-width="0.22" transform="rotate(0.04 283.00 183.27)">14</text>
<line x1="283.60" y1="166.00" x2="286.40" y2="166.00" stroke="#000" stroke-width="1.0"/>
<text x="283.00" y="169.05" font-size="7.2" text-anchor="end" fill="#231f20" stroke="#231f20" stroke-width="0.22" transform="rotate(0.04 283.00 169.05)">16</text>
<line x1="285.75" y1="279.75" x2="506.20" y2="279.75" stroke="#000" stroke-width="1.3"/>
<text x="298.55" y="286.45" font-size="6.2" text-anchor="middle" textLength="18.30" lengthAdjust="spacingAndGlyphs" fill="#231f20" stroke="#231f20" stroke-width="0.1" transform="rotate(0.04 298.55 286.45)">control</text>
<text x="320.21" y="286.45" font-size="6.2" text-anchor="middle" textLength="8.70" lengthAdjust="spacingAndGlyphs" fill="#231f20" stroke="#231f20" stroke-width="0.1" transform="rotate(0.04 320.21 286.45)">WT</text>
<text x="341.17" y="286.45" font-size="6.2" text-anchor="middle" textLength="13.80" lengthAdjust="spacingAndGlyphs" fill="#231f20" stroke="#231f20" stroke-width="0.1" transform="rotate(0.04 341.17 286.45)">R84H</text>
<text x="364.23" y="286.45" font-size="6.2" text-anchor="middle" textLength="17.60" lengthAdjust="spacingAndGlyphs" fill="#231f20" stroke="#231f20" stroke-width="0.1" transform="rotate(0.04 364.23 286.45)">D151A</text>
<text x="387.79" y="286.45" font-size="6.2" text-anchor="middle" textLength="17.60" lengthAdjust="spacingAndGlyphs" fill="#231f20" stroke="#231f20" stroke-width="0.1" transform="rotate(0.04 387.79 286.45)">Q340X</text>
<text x="408.05" y="286.45" font-size="6.2" text-anchor="middle" textLength="18.30" lengthAdjust="spacingAndGlyphs" fill="#231f20" stroke="#231f20" stroke-width="0.1" transform="rotate(0.04 408.05 286.45)">control</text>
<text x="428.51" y="286.45" font-size="6.2" text-anchor="middle" textLength="8.70" lengthAdjust="spacingAndGlyphs" fill="#231f20" stroke="#231f20" stroke-width="0.1" transform="rotate(0.04 428.51 286.45)">WT</text>
<text x="449.77" y="286.45" font-size="6.2" text-anchor="middle" textLength="13.80" lengthAdjust="spacingAndGlyphs" fill="#231f20" stroke="#231f20" stroke-width="0.1" transform="rotate(0.04 449.77 286.45)">R84H</text>
<text x="474.03" y="286.45" font-size="6.2" text-anchor="middle" textLength="17.60" lengthAdjust="spacingAndGlyphs" fill="#231f20" stroke="#231f20" stroke-width="0.1" transform="rotate(0.04 474.03 286.45)">D151A</text>
<text x="496.19" y="286.45" font-size="6.2" text-anchor="middle" textLength="17.60" lengthAdjust="spacingAndGlyphs" fill="#231f20" stroke="#231f20" stroke-width="0.1" transform="rotate(0.04 496.19 286.45)">Q340X</text>
<line x1="401.25" y1="289.85" x2="503.19" y2="289.85" stroke="#000" stroke-width="1.3"/>
<line x1="419.05" y1="296.45" x2="424.25" y2="296.45" stroke="#231f20" stroke-width="1.0"/>
<line x1="421.65" y1="293.85" x2="421.65" y2="299.05" stroke="#231f20" stroke-width="1.0"/>
<text x="425.45" y="299.15" font-size="10.9" text-anchor="start" textLength="23.80" lengthAdjust="spacingAndGlyphs" fill="#231f20" stroke="#231f20" stroke-width="0.3" transform="rotate(0.04 425.45 299.15)">LysoPS</text>
<text x="450.45" y="299.15" font-size="10.2" text-anchor="start" textLength="33.40" lengthAdjust="spacingAndGlyphs" fill="#231f20" stroke="#231f20" stroke-width="0.3" transform="rotate(0.04 450.45 299.15)">(100μM)</text>
<text transform="translate(273.10,222.10) rotate(-89.96)" x="0" y="0" font-size="9.0" text-anchor="middle" textLength="102.5" lengthAdjust="spacingAndGlyphs" fill="#2a2a2a" stroke="#2a2a2a" stroke-width="0.1">Fold increase in reporter activities</text>
<text x="291.20" y="174.10" font-size="8.6" text-anchor="start" textLength="25.70" lengthAdjust="spacingAndGlyphs" fill="#231f20" stroke="#231f20" stroke-width="0.35" transform="rotate(0.04 291.20 174.10)">SRF-RE</text>
<text x="291.20" y="183.70" font-size="8.4" text-anchor="start" textLength="23.40" lengthAdjust="spacingAndGlyphs" fill="#231f20" stroke="#231f20" stroke-width="0.32" transform="rotate(0.04 291.20 183.70)">(RhoA)</text>
<line x1="319.80" y1="249.70" x2="388.10" y2="249.70" stroke="#1a1a1a" stroke-width="1.25"/>
<line x1="320.40" y1="249.20" x2="320.40" y2="252.60" stroke="#000" stroke-width="1.3"/>
<line x1="387.50" y1="249.20" x2="387.50" y2="252.60" stroke="#000" stroke-width="1.3"/>
<line x1="427.70" y1="206.70" x2="496.20" y2="206.70" stroke="#1a1a1a" stroke-width="1.25"/>
<line x1="428.30" y1="206.20" x2="428.30" y2="209.60" stroke="#000" stroke-width="1.3"/>
<line x1="471.40" y1="206.20" x2="471.40" y2="209.60" stroke="#000" stroke-width="1.3"/>
<line x1="495.60" y1="206.20" x2="495.60" y2="209.60" stroke="#000" stroke-width="1.3"/>
<circle cx="384.02" cy="243.70" r="1.35" fill="#1a1a1a"/>
<circle cx="387.97" cy="243.70" r="1.35" fill="#1a1a1a"/>
<circle cx="495.85" cy="201.90" r="1.35" fill="#1a1a1a"/>
<circle cx="499.80" cy="201.90" r="1.35" fill="#1a1a1a"/>
<circle cx="503.75" cy="201.90" r="1.35" fill="#1a1a1a"/>
<rect x="42.90" y="424.25" width="14.10" height="7.05" fill="#c32034"/>
<line x1="49.50" y1="424.25" x2="49.50" y2="423.30" stroke="#000" stroke-width="1.0"/>
<line x1="47.30" y1="423.80" x2="51.70" y2="423.80" stroke="#000" stroke-width="1.1"/>
<rect x="64.83" y="419.25" width="14.10" height="12.05" fill="#c32034"/>
<line x1="71.50" y1="419.25" x2="71.50" y2="417.50" stroke="#000" stroke-width="1.0"/>
<line x1="69.30" y1="418.00" x2="73.70" y2="418.00" stroke="#000" stroke-width="1.1"/>
<rect x="86.76" y="421.00" width="14.10" height="10.30" fill="#c32034"/>
<line x1="93.50" y1="421.00" x2="93.50" y2="420.00" stroke="#000" stroke-width="1.0"/>
<line x1="91.30" y1="420.50" x2="95.70" y2="420.50" stroke="#000" stroke-width="1.1"/>
<rect x="108.69" y="416.00" width="14.10" height="15.30" fill="#c32034"/>
<line x1="115.50" y1="416.00" x2="115.50" y2="414.50" stroke="#000" stroke-width="1.0"/>
<line x1="113.30" y1="415.00" x2="117.70" y2="415.00" stroke="#000" stroke-width="1.1"/>
<rect x="130.62" y="417.10" width="14.10" height="14.20" fill="#c32034"/>
<line x1="137.50" y1="417.10" x2="137.50" y2="415.50" stroke="#000" stroke-width="1.0"/>
<line x1="135.30" y1="416.00" x2="139.70" y2="416.00" stroke="#000" stroke-width="1.1"/>
<rect x="152.55" y="422.00" width="14.10" height="9.30" fill="#025687"/>
<line x1="159.50" y1="422.00" x2="159.50" y2="420.40" stroke="#000" stroke-width="1.0"/>
<line x1="157.30" y1="420.90" x2="161.70" y2="420.90" stroke="#000" stroke-width="1.1"/>
<rect x="174.48" y="412.80" width="14.10" height="18.50" fill="#025687"/>
<line x1="181.50" y1="412.80" x2="181.50" y2="411.20" stroke="#000" stroke-width="1.0"/>
<line x1="179.30" y1="411.70" x2="183.70" y2="411.70" stroke="#000" stroke-width="1.1"/>
<rect x="196.41" y="413.90" width="14.10" height="17.40" fill="#025687"/>
<line x1="203.50" y1="413.90" x2="203.50" y2="411.70" stroke="#000" stroke-width="1.0"/>
<line x1="201.30" y1="412.20" x2="205.70" y2="412.20" stroke="#000" stroke-width="1.1"/>
<rect x="218.34" y="405.00" width="14.10" height="26.30" fill="#025687"/>
<line x1="225.50" y1="405.00" x2="225.50" y2="402.00" stroke="#000" stroke-width="1.0"/>
<line x1="223.30" y1="402.50" x2="227.70" y2="402.50" stroke="#000" stroke-width="1.1"/>
<rect x="240.27" y="402.60" width="14.10" height="28.70" fill="#025687"/>
<line x1="247.50" y1="402.60" x2="247.50" y2="400.20" stroke="#000" stroke-width="1.0"/>
<line x1="245.30" y1="400.70" x2="249.70" y2="400.70" stroke="#000" stroke-width="1.1"/>
<line x1="38.10" y1="316.70" x2="38.10" y2="431.30" stroke="#000" stroke-width="1.3"/>
<line x1="35.30" y1="431.30" x2="38.10" y2="431.30" stroke="#000" stroke-width="1.0"/>
<text x="34.70" y="434.85" font-size="7.2" text-anchor="end" fill="#231f20" stroke="#231f20" stroke-width="0.22" transform="rotate(0.04 34.70 434.85)">0</text>
<line x1="35.30" y1="417.05" x2="38.10" y2="417.05" stroke="#000" stroke-width="1.0"/>
<text x="34.70" y="420.10" font-size="7.2" text-anchor="end" fill="#231f20" stroke="#231f20" stroke-width="0.22" transform="rotate(0.04 34.70 420.10)">2</text>
<line x1="35.30" y1="402.80" x2="38.10" y2="402.80" stroke="#000" stroke-width="1.0"/>
<text x="34.70" y="405.85" font-size="7.2" text-anchor="end" fill="#231f20" stroke="#231f20" stroke-width="0.22" transform="rotate(0.04 34.70 405.85)">4</text>
<line x1="35.30" y1="388.55" x2="38.10" y2="388.55" stroke="#000" stroke-width="1.0"/>
<text x="34.70" y="391.60" font-size="7.2" text-anchor="end" fill="#231f20" stroke="#231f20" stroke-width="0.22" transform="rotate(0.04 34.70 391.60)">6</text>
<line x1="35.30" y1="374.30" x2="38.10" y2="374.30" stroke="#000" stroke-width="1.0"/>
<text x="34.70" y="377.35" font-size="7.2" text-anchor="end" fill="#231f20" stroke="#231f20" stroke-width="0.22" transform="rotate(0.04 34.70 377.35)">8</text>
<line x1="35.30" y1="360.05" x2="38.10" y2="360.05" stroke="#000" stroke-width="1.0"/>
<text x="34.70" y="363.10" font-size="7.2" text-anchor="end" fill="#231f20" stroke="#231f20" stroke-width="0.22" transform="rotate(0.04 34.70 363.10)">10</text>
<line x1="35.30" y1="345.80" x2="38.10" y2="345.80" stroke="#000" stroke-width="1.0"/>
<text x="34.70" y="348.85" font-size="7.2" text-anchor="end" fill="#231f20" stroke="#231f20" stroke-width="0.22" transform="rotate(0.04 34.70 348.85)">12</text>
<line x1="35.30" y1="331.55" x2="38.10" y2="331.55" stroke="#000" stroke-width="1.0"/>
<text x="34.70" y="334.60" font-size="7.2" text-anchor="end" fill="#231f20" stroke="#231f20" stroke-width="0.22" transform="rotate(0.04 34.70 334.60)">14</text>
<line x1="35.30" y1="317.30" x2="38.10" y2="317.30" stroke="#000" stroke-width="1.0"/>
<text x="34.70" y="320.35" font-size="7.2" text-anchor="end" fill="#231f20" stroke="#231f20" stroke-width="0.22" transform="rotate(0.04 34.70 320.35)">16</text>
<line x1="37.45" y1="431.30" x2="257.50" y2="431.30" stroke="#000" stroke-width="1.3"/>
<text x="50.15" y="438.00" font-size="6.2" text-anchor="middle" textLength="18.30" lengthAdjust="spacingAndGlyphs" fill="#231f20" stroke="#231f20" stroke-width="0.1" transform="rotate(0.04 50.15 438.00)">control</text>
<text x="71.78" y="438.00" font-size="6.2" text-anchor="middle" textLength="8.70" lengthAdjust="spacingAndGlyphs" fill="#231f20" stroke="#231f20" stroke-width="0.1" transform="rotate(0.04 71.78 438.00)">WT</text>
<text x="92.71" y="438.00" font-size="6.2" text-anchor="middle" textLength="13.80" lengthAdjust="spacingAndGlyphs" fill="#231f20" stroke="#231f20" stroke-width="0.1" transform="rotate(0.04 92.71 438.00)">R84H</text>
<text x="115.74" y="438.00" font-size="6.2" text-anchor="middle" textLength="17.60" lengthAdjust="spacingAndGlyphs" fill="#231f20" stroke="#231f20" stroke-width="0.1" transform="rotate(0.04 115.74 438.00)">D151A</text>
<text x="139.27" y="438.00" font-size="6.2" text-anchor="middle" textLength="17.60" lengthAdjust="spacingAndGlyphs" fill="#231f20" stroke="#231f20" stroke-width="0.1" transform="rotate(0.04 139.27 438.00)">Q340X</text>
<text x="159.50" y="438.00" font-size="6.2" text-anchor="middle" textLength="18.30" lengthAdjust="spacingAndGlyphs" fill="#231f20" stroke="#231f20" stroke-width="0.1" transform="rotate(0.04 159.50 438.00)">control</text>
<text x="179.93" y="438.00" font-size="6.2" text-anchor="middle" textLength="8.70" lengthAdjust="spacingAndGlyphs" fill="#231f20" stroke="#231f20" stroke-width="0.1" transform="rotate(0.04 179.93 438.00)">WT</text>
<text x="201.16" y="438.00" font-size="6.2" text-anchor="middle" textLength="13.80" lengthAdjust="spacingAndGlyphs" fill="#231f20" stroke="#231f20" stroke-width="0.1" transform="rotate(0.04 201.16 438.00)">R84H</text>
<text x="225.39" y="438.00" font-size="6.2" text-anchor="middle" textLength="17.60" lengthAdjust="spacingAndGlyphs" fill="#231f20" stroke="#231f20" stroke-width="0.1" transform="rotate(0.04 225.39 438.00)">D151A</text>
<text x="247.52" y="438.00" font-size="6.2" text-anchor="middle" textLength="17.60" lengthAdjust="spacingAndGlyphs" fill="#231f20" stroke="#231f20" stroke-width="0.1" transform="rotate(0.04 247.52 438.00)">Q340X</text>
<line x1="152.65" y1="441.40" x2="253.97" y2="441.40" stroke="#000" stroke-width="1.3"/>
<line x1="170.45" y1="448.00" x2="175.65" y2="448.00" stroke="#231f20" stroke-width="1.0"/>
<line x1="173.05" y1="445.40" x2="173.05" y2="450.60" stroke="#231f20" stroke-width="1.0"/>
<text x="176.85" y="450.70" font-size="10.9" text-anchor="start" textLength="23.80" lengthAdjust="spacingAndGlyphs" fill="#231f20" stroke="#231f20" stroke-width="0.3" transform="rotate(0.04 176.85 450.70)">LysoPS</text>
<text x="201.85" y="450.70" font-size="10.2" text-anchor="start" textLength="33.40" lengthAdjust="spacingAndGlyphs" fill="#231f20" stroke="#231f20" stroke-width="0.3" transform="rotate(0.04 201.85 450.70)">(100μM)</text>
<text transform="translate(20.70,373.35) rotate(-89.96)" x="0" y="0" font-size="9.0" text-anchor="middle" textLength="102.5" lengthAdjust="spacingAndGlyphs" fill="#2a2a2a" stroke="#2a2a2a" stroke-width="0.1">Fold increase in reporter activities</text>
<text x="42.00" y="325.60" font-size="8.6" text-anchor="start" textLength="14.20" lengthAdjust="spacingAndGlyphs" fill="#231f20" stroke="#231f20" stroke-width="0.35" transform="rotate(0.04 42.00 325.60)">SRE</text>
<text x="42.00" y="334.80" font-size="8.4" text-anchor="start" textLength="45.00" lengthAdjust="spacingAndGlyphs" fill="#231f20" stroke="#231f20" stroke-width="0.32" transform="rotate(0.04 42.00 334.80)">(MAPK/ERK)</text>
<line x1="65.50" y1="403.60" x2="137.30" y2="403.60" stroke="#1a1a1a" stroke-width="1.25"/>
<line x1="66.10" y1="403.10" x2="66.10" y2="406.50" stroke="#000" stroke-width="1.3"/>
<line x1="114.40" y1="403.10" x2="114.40" y2="406.50" stroke="#000" stroke-width="1.3"/>
<line x1="136.70" y1="403.10" x2="136.70" y2="406.50" stroke="#000" stroke-width="1.3"/>
<line x1="177.60" y1="390.50" x2="246.00" y2="390.50" stroke="#1a1a1a" stroke-width="1.25"/>
<line x1="178.20" y1="390.00" x2="178.20" y2="393.40" stroke="#000" stroke-width="1.3"/>
<line x1="223.50" y1="390.00" x2="223.50" y2="393.40" stroke="#000" stroke-width="1.3"/>
<line x1="245.40" y1="390.00" x2="245.40" y2="393.40" stroke="#000" stroke-width="1.3"/>
<circle cx="110.35" cy="397.20" r="1.35" fill="#1a1a1a"/>
<circle cx="114.30" cy="397.20" r="1.35" fill="#1a1a1a"/>
<circle cx="118.25" cy="397.20" r="1.35" fill="#1a1a1a"/>
<circle cx="133.12" cy="396.70" r="1.35" fill="#1a1a1a"/>
<circle cx="137.07" cy="396.70" r="1.35" fill="#1a1a1a"/>
<circle cx="216.85" cy="385.40" r="1.35" fill="#1a1a1a"/>
<circle cx="220.80" cy="385.40" r="1.35" fill="#1a1a1a"/>
<circle cx="224.75" cy="385.40" r="1.35" fill="#1a1a1a"/>
<circle cx="242.45" cy="385.40" r="1.35" fill="#1a1a1a"/>
<circle cx="246.40" cy="385.40" r="1.35" fill="#1a1a1a"/>
<circle cx="250.35" cy="385.40" r="1.35" fill="#1a1a1a"/>
<rect x="291.35" y="424.25" width="14.00" height="7.05" fill="#c32034"/>
<line x1="298.50" y1="424.25" x2="298.50" y2="423.25" stroke="#000" stroke-width="1.0"/>
<line x1="296.30" y1="423.75" x2="300.70" y2="423.75" stroke="#000" stroke-width="1.1"/>
<rect x="313.31" y="417.00" width="14.00" height="14.30" fill="#c32034"/>
<line x1="320.50" y1="417.00" x2="320.50" y2="415.50" stroke="#000" stroke-width="1.0"/>
<line x1="318.30" y1="416.00" x2="322.70" y2="416.00" stroke="#000" stroke-width="1.1"/>
<rect x="335.27" y="417.75" width="14.00" height="13.55" fill="#c32034"/>
<line x1="342.50" y1="417.75" x2="342.50" y2="415.50" stroke="#000" stroke-width="1.0"/>
<line x1="340.30" y1="416.00" x2="344.70" y2="416.00" stroke="#000" stroke-width="1.1"/>
<rect x="357.23" y="417.25" width="14.00" height="14.05" fill="#c32034"/>
<line x1="363.50" y1="417.25" x2="363.50" y2="414.25" stroke="#000" stroke-width="1.0"/>
<line x1="361.30" y1="414.75" x2="365.70" y2="414.75" stroke="#000" stroke-width="1.1"/>
<rect x="379.19" y="414.50" width="14.00" height="16.80" fill="#c32034"/>
<line x1="385.50" y1="414.50" x2="385.50" y2="413.00" stroke="#000" stroke-width="1.0"/>
<line x1="383.30" y1="413.50" x2="387.70" y2="413.50" stroke="#000" stroke-width="1.1"/>
<rect x="401.15" y="421.20" width="14.00" height="10.10" fill="#025687"/>
<line x1="407.50" y1="421.20" x2="407.50" y2="420.40" stroke="#000" stroke-width="1.0"/>
<line x1="405.30" y1="420.90" x2="409.70" y2="420.90" stroke="#000" stroke-width="1.1"/>
<rect x="423.11" y="413.10" width="14.00" height="18.20" fill="#025687"/>
<line x1="429.50" y1="413.10" x2="429.50" y2="411.20" stroke="#000" stroke-width="1.0"/>
<line x1="427.30" y1="411.70" x2="431.70" y2="411.70" stroke="#000" stroke-width="1.1"/>
<rect x="445.07" y="413.60" width="14.00" height="17.70" fill="#025687"/>
<line x1="451.50" y1="413.60" x2="451.50" y2="411.70" stroke="#000" stroke-width="1.0"/>
<line x1="449.30" y1="412.20" x2="453.70" y2="412.20" stroke="#000" stroke-width="1.1"/>
<rect x="467.03" y="410.90" width="14.00" height="20.40" fill="#025687"/>
<line x1="473.50" y1="410.90" x2="473.50" y2="409.90" stroke="#000" stroke-width="1.0"/>
<line x1="471.30" y1="410.40" x2="475.70" y2="410.40" stroke="#000" stroke-width="1.1"/>
<rect x="488.99" y="406.10" width="14.00" height="25.20" fill="#025687"/>
<line x1="495.50" y1="406.10" x2="495.50" y2="404.20" stroke="#000" stroke-width="1.0"/>
<line x1="493.30" y1="404.70" x2="497.70" y2="404.70" stroke="#000" stroke-width="1.1"/>
<line x1="286.40" y1="316.70" x2="286.40" y2="431.30" stroke="#000" stroke-width="1.3"/>
<line x1="283.60" y1="431.30" x2="286.40" y2="431.30" stroke="#000" stroke-width="1.0"/>
<text x="283.00" y="434.85" font-size="7.2" text-anchor="end" fill="#231f20" stroke="#231f20" stroke-width="0.22" transform="rotate(0.04 283.00 434.85)">0</text>
<line x1="283.60" y1="417.05" x2="286.40" y2="417.05" stroke="#000" stroke-width="1.0"/>
<text x="283.00" y="420.10" font-size="7.2" text-anchor="end" fill="#231f20" stroke="#231f20" stroke-width="0.22" transform="rotate(0.04 283.00 420.10)">2</text>
<line x1="283.60" y1="402.80" x2="286.40" y2="402.80" stroke="#000" stroke-width="1.0"/>
<text x="283.00" y="405.85" font-size="7.2" text-anchor="end" fill="#231f20" stroke="#231f20" stroke-width="0.22" transform="rotate(0.04 283.00 405.85)">4</text>
<line x1="283.60" y1="388.55" x2="286.40" y2="388.55" stroke="#000" stroke-width="1.0"/>
<text x="283.00" y="391.60" font-size="7.2" text-anchor="end" fill="#231f20" stroke="#231f20" stroke-width="0.22" transform="rotate(0.04 283.00 391.60)">6</text>
<line x1="283.60" y1="374.30" x2="286.40" y2="374.30" stroke="#000" stroke-width="1.0"/>
<text x="283.00" y="377.35" font-size="7.2" text-anchor="end" fill="#231f20" stroke="#231f20" stroke-width="0.22" transform="rotate(0.04 283.00 377.35)">8</text>
<line x1="283.60" y1="360.05" x2="286.40" y2="360.05" stroke="#000" stroke-width="1.0"/>
<text x="283.00" y="363.10" font-size="7.2" text-anchor="end" fill="#231f20" stroke="#231f20" stroke-width="0.22" transform="rotate(0.04 283.00 363.10)">10</text>
<line x1="283.60" y1="345.80" x2="286.40" y2="345.80" stroke="#000" stroke-width="1.0"/>
<text x="283.00" y="348.85" font-size="7.2" text-anchor="end" fill="#231f20" stroke="#231f20" stroke-width="0.22" transform="rotate(0.04 283.00 348.85)">12</text>
<line x1="283.60" y1="331.55" x2="286.40" y2="331.55" stroke="#000" stroke-width="1.0"/>
<text x="283.00" y="334.60" font-size="7.2" text-anchor="end" fill="#231f20" stroke="#231f20" stroke-width="0.22" transform="rotate(0.04 283.00 334.60)">14</text>
<line x1="283.60" y1="317.30" x2="286.40" y2="317.30" stroke="#000" stroke-width="1.0"/>
<text x="283.00" y="320.35" font-size="7.2" text-anchor="end" fill="#231f20" stroke="#231f20" stroke-width="0.22" transform="rotate(0.04 283.00 320.35)">16</text>
<line x1="285.75" y1="431.30" x2="506.20" y2="431.30" stroke="#000" stroke-width="1.3"/>
<text x="298.55" y="438.00" font-size="6.2" text-anchor="middle" textLength="18.30" lengthAdjust="spacingAndGlyphs" fill="#231f20" stroke="#231f20" stroke-width="0.1" transform="rotate(0.04 298.55 438.00)">control</text>
<text x="320.21" y="438.00" font-size="6.2" text-anchor="middle" textLength="8.70" lengthAdjust="spacingAndGlyphs" fill="#231f20" stroke="#231f20" stroke-width="0.1" transform="rotate(0.04 320.21 438.00)">WT</text>
<text x="341.17" y="438.00" font-size="6.2" text-anchor="middle" textLength="13.80" lengthAdjust="spacingAndGlyphs" fill="#231f20" stroke="#231f20" stroke-width="0.1" transform="rotate(0.04 341.17 438.00)">R84H</text>
<text x="364.23" y="438.00" font-size="6.2" text-anchor="middle" textLength="17.60" lengthAdjust="spacingAndGlyphs" fill="#231f20" stroke="#231f20" stroke-width="0.1" transform="rotate(0.04 364.23 438.00)">D151A</text>
<text x="387.79" y="438.00" font-size="6.2" text-anchor="middle" textLength="17.60" lengthAdjust="spacingAndGlyphs" fill="#231f20" stroke="#231f20" stroke-width="0.1" transform="rotate(0.04 387.79 438.00)">Q340X</text>
<text x="408.05" y="438.00" font-size="6.2" text-anchor="middle" textLength="18.30" lengthAdjust="spacingAndGlyphs" fill="#231f20" stroke="#231f20" stroke-width="0.1" transform="rotate(0.04 408.05 438.00)">control</text>
<text x="428.51" y="438.00" font-size="6.2" text-anchor="middle" textLength="8.70" lengthAdjust="spacingAndGlyphs" fill="#231f20" stroke="#231f20" stroke-width="0.1" transform="rotate(0.04 428.51 438.00)">WT</text>
<text x="449.77" y="438.00" font-size="6.2" text-anchor="middle" textLength="13.80" lengthAdjust="spacingAndGlyphs" fill="#231f20" stroke="#231f20" stroke-width="0.1" transform="rotate(0.04 449.77 438.00)">R84H</text>
<text x="474.03" y="438.00" font-size="6.2" text-anchor="middle" textLength="17.60" lengthAdjust="spacingAndGlyphs" fill="#231f20" stroke="#231f20" stroke-width="0.1" transform="rotate(0.04 474.03 438.00)">D151A</text>
<text x="496.19" y="438.00" font-size="6.2" text-anchor="middle" textLength="17.60" lengthAdjust="spacingAndGlyphs" fill="#231f20" stroke="#231f20" stroke-width="0.1" transform="rotate(0.04 496.19 438.00)">Q340X</text>
<line x1="401.25" y1="441.40" x2="503.19" y2="441.40" stroke="#000" stroke-width="1.3"/>
<line x1="419.05" y1="448.00" x2="424.25" y2="448.00" stroke="#231f20" stroke-width="1.0"/>
<line x1="421.65" y1="445.40" x2="421.65" y2="450.60" stroke="#231f20" stroke-width="1.0"/>
<text x="425.45" y="450.70" font-size="10.9" text-anchor="start" textLength="23.80" lengthAdjust="spacingAndGlyphs" fill="#231f20" stroke="#231f20" stroke-width="0.3" transform="rotate(0.04 425.45 450.70)">LysoPS</text>
<text x="450.45" y="450.70" font-size="10.2" text-anchor="start" textLength="33.40" lengthAdjust="spacingAndGlyphs" fill="#231f20" stroke="#231f20" stroke-width="0.3" transform="rotate(0.04 450.45 450.70)">(100μM)</text>
<text transform="translate(273.10,373.30) rotate(-89.96)" x="0" y="0" font-size="9.0" text-anchor="middle" textLength="102.5" lengthAdjust="spacingAndGlyphs" fill="#2a2a2a" stroke="#2a2a2a" stroke-width="0.1">Fold increase in reporter activities</text>
<text x="290.60" y="325.60" font-size="8.6" text-anchor="start" textLength="25.60" lengthAdjust="spacingAndGlyphs" fill="#231f20" stroke="#231f20" stroke-width="0.35" transform="rotate(0.04 290.60 325.60)">CSL-RE</text>
<text x="290.60" y="334.80" font-size="8.4" text-anchor="start" textLength="26.30" lengthAdjust="spacingAndGlyphs" fill="#231f20" stroke="#231f20" stroke-width="0.32" transform="rotate(0.04 290.60 334.80)">(Notch)</text>
<rect x="42.90" y="569.25" width="14.10" height="6.55" fill="#c32034"/>
<line x1="49.50" y1="569.25" x2="49.50" y2="568.60" stroke="#000" stroke-width="1.0"/>
<line x1="47.30" y1="569.10" x2="51.70" y2="569.10" stroke="#000" stroke-width="1.1"/>
<rect x="64.83" y="563.75" width="14.10" height="12.05" fill="#c32034"/>
<line x1="71.50" y1="563.75" x2="71.50" y2="562.50" stroke="#000" stroke-width="1.0"/>
<line x1="69.30" y1="563.00" x2="73.70" y2="563.00" stroke="#000" stroke-width="1.1"/>
<rect x="86.76" y="564.75" width="14.10" height="11.05" fill="#c32034"/>
<line x1="93.50" y1="564.75" x2="93.50" y2="564.00" stroke="#000" stroke-width="1.0"/>
<line x1="91.30" y1="564.50" x2="95.70" y2="564.50" stroke="#000" stroke-width="1.1"/>
<rect x="108.69" y="564.00" width="14.10" height="11.80" fill="#c32034"/>
<line x1="115.50" y1="564.00" x2="115.50" y2="563.25" stroke="#000" stroke-width="1.0"/>
<line x1="113.30" y1="563.75" x2="117.70" y2="563.75" stroke="#000" stroke-width="1.1"/>
<rect x="130.62" y="562.20" width="14.10" height="13.60" fill="#c32034"/>
<line x1="137.50" y1="562.20" x2="137.50" y2="561.10" stroke="#000" stroke-width="1.0"/>
<line x1="135.30" y1="561.60" x2="139.70" y2="561.60" stroke="#000" stroke-width="1.1"/>
<rect x="152.55" y="568.40" width="14.10" height="7.40" fill="#025687"/>
<line x1="159.50" y1="568.40" x2="159.50" y2="567.30" stroke="#000" stroke-width="1.0"/>
<line x1="157.30" y1="567.80" x2="161.70" y2="567.80" stroke="#000" stroke-width="1.1"/>
<rect x="174.48" y="560.00" width="14.10" height="15.80" fill="#025687"/>
<line x1="181.50" y1="560.00" x2="181.50" y2="558.90" stroke="#000" stroke-width="1.0"/>
<line x1="179.30" y1="559.40" x2="183.70" y2="559.40" stroke="#000" stroke-width="1.1"/>
<rect x="196.41" y="560.80" width="14.10" height="15.00" fill="#025687"/>
<line x1="203.50" y1="560.80" x2="203.50" y2="560.00" stroke="#000" stroke-width="1.0"/>
<line x1="201.30" y1="560.50" x2="205.70" y2="560.50" stroke="#000" stroke-width="1.1"/>
<rect x="218.34" y="558.90" width="14.10" height="16.90" fill="#025687"/>
<line x1="225.50" y1="558.90" x2="225.50" y2="557.60" stroke="#000" stroke-width="1.0"/>
<line x1="223.30" y1="558.10" x2="227.70" y2="558.10" stroke="#000" stroke-width="1.1"/>
<rect x="240.27" y="559.50" width="14.10" height="16.30" fill="#025687"/>
<line x1="247.50" y1="559.50" x2="247.50" y2="558.40" stroke="#000" stroke-width="1.0"/>
<line x1="245.30" y1="558.90" x2="249.70" y2="558.90" stroke="#000" stroke-width="1.1"/>
<line x1="38.10" y1="461.90" x2="38.10" y2="575.80" stroke="#000" stroke-width="1.3"/>
<line x1="35.30" y1="575.80" x2="38.10" y2="575.80" stroke="#000" stroke-width="1.0"/>
<text x="34.70" y="579.35" font-size="7.2" text-anchor="end" fill="#231f20" stroke="#231f20" stroke-width="0.22" transform="rotate(0.04 34.70 579.35)">0</text>
<line x1="35.30" y1="561.64" x2="38.10" y2="561.64" stroke="#000" stroke-width="1.0"/>
<text x="34.70" y="564.69" font-size="7.2" text-anchor="end" fill="#231f20" stroke="#231f20" stroke-width="0.22" transform="rotate(0.04 34.70 564.69)">2</text>
<line x1="35.30" y1="547.47" x2="38.10" y2="547.47" stroke="#000" stroke-width="1.0"/>
<text x="34.70" y="550.52" font-size="7.2" text-anchor="end" fill="#231f20" stroke="#231f20" stroke-width="0.22" transform="rotate(0.04 34.70 550.52)">4</text>
<line x1="35.30" y1="533.31" x2="38.10" y2="533.31" stroke="#000" stroke-width="1.0"/>
<text x="34.70" y="536.36" font-size="7.2" text-anchor="end" fill="#231f20" stroke="#231f20" stroke-width="0.22" transform="rotate(0.04 34.70 536.36)">6</text>
<line x1="35.30" y1="519.15" x2="38.10" y2="519.15" stroke="#000" stroke-width="1.0"/>
<text x="34.70" y="522.20" font-size="7.2" text-anchor="end" fill="#231f20" stroke="#231f20" stroke-width="0.22" transform="rotate(0.04 34.70 522.20)">8</text>
<line x1="35.30" y1="504.99" x2="38.10" y2="504.99" stroke="#000" stroke-width="1.0"/>
<text x="34.70" y="508.04" font-size="7.2" text-anchor="end" fill="#231f20" stroke="#231f20" stroke-width="0.22" transform="rotate(0.04 34.70 508.04)">10</text>
<line x1="35.30" y1="490.82" x2="38.10" y2="490.82" stroke="#000" stroke-width="1.0"/>
<text x="34.70" y="493.88" font-size="7.2" text-anchor="end" fill="#231f20" stroke="#231f20" stroke-width="0.22" transform="rotate(0.04 34.70 493.88)">12</text>
<line x1="35.30" y1="476.66" x2="38.10" y2="476.66" stroke="#000" stroke-width="1.0"/>
<text x="34.70" y="479.71" font-size="7.2" text-anchor="end" fill="#231f20" stroke="#231f20" stroke-width="0.22" transform="rotate(0.04 34.70 479.71)">14</text>
<line x1="35.30" y1="462.50" x2="38.10" y2="462.50" stroke="#000" stroke-width="1.0"/>
<text x="34.70" y="465.55" font-size="7.2" text-anchor="end" fill="#231f20" stroke="#231f20" stroke-width="0.22" transform="rotate(0.04 34.70 465.55)">16</text>
<line x1="37.45" y1="575.80" x2="257.50" y2="575.80" stroke="#000" stroke-width="1.3"/>
<text x="50.15" y="582.50" font-size="6.2" text-anchor="middle" textLength="18.30" lengthAdjust="spacingAndGlyphs" fill="#231f20" stroke="#231f20" stroke-width="0.1" transform="rotate(0.04 50.15 582.50)">control</text>
<text x="71.78" y="582.50" font-size="6.2" text-anchor="middle" textLength="8.70" lengthAdjust="spacingAndGlyphs" fill="#231f20" stroke="#231f20" stroke-width="0.1" transform="rotate(0.04 71.78 582.50)">WT</text>
<text x="92.71" y="582.50" font-size="6.2" text-anchor="middle" textLength="13.80" lengthAdjust="spacingAndGlyphs" fill="#231f20" stroke="#231f20" stroke-width="0.1" transform="rotate(0.04 92.71 582.50)">R84H</text>
<text x="115.74" y="582.50" font-size="6.2" text-anchor="middle" textLength="17.60" lengthAdjust="spacingAndGlyphs" fill="#231f20" stroke="#231f20" stroke-width="0.1" transform="rotate(0.04 115.74 582.50)">D151A</text>
<text x="139.27" y="582.50" font-size="6.2" text-anchor="middle" textLength="17.60" lengthAdjust="spacingAndGlyphs" fill="#231f20" stroke="#231f20" stroke-width="0.1" transform="rotate(0.04 139.27 582.50)">Q340X</text>
<text x="159.50" y="582.50" font-size="6.2" text-anchor="middle" textLength="18.30" lengthAdjust="spacingAndGlyphs" fill="#231f20" stroke="#231f20" stroke-width="0.1" transform="rotate(0.04 159.50 582.50)">control</text>
<text x="179.93" y="582.50" font-size="6.2" text-anchor="middle" textLength="8.70" lengthAdjust="spacingAndGlyphs" fill="#231f20" stroke="#231f20" stroke-width="0.1" transform="rotate(0.04 179.93 582.50)">WT</text>
<text x="201.16" y="582.50" font-size="6.2" text-anchor="middle" textLength="13.80" lengthAdjust="spacingAndGlyphs" fill="#231f20" stroke="#231f20" stroke-width="0.1" transform="rotate(0.04 201.16 582.50)">R84H</text>
<text x="225.39" y="582.50" font-size="6.2" text-anchor="middle" textLength="17.60" lengthAdjust="spacingAndGlyphs" fill="#231f20" stroke="#231f20" stroke-width="0.1" transform="rotate(0.04 225.39 582.50)">D151A</text>
<text x="247.52" y="582.50" font-size="6.2" text-anchor="middle" textLength="17.60" lengthAdjust="spacingAndGlyphs" fill="#231f20" stroke="#231f20" stroke-width="0.1" transform="rotate(0.04 247.52 582.50)">Q340X</text>
<line x1="152.65" y1="585.90" x2="253.97" y2="585.90" stroke="#000" stroke-width="1.3"/>
<line x1="170.45" y1="592.50" x2="175.65" y2="592.50" stroke="#231f20" stroke-width="1.0"/>
<line x1="173.05" y1="589.90" x2="173.05" y2="595.10" stroke="#231f20" stroke-width="1.0"/>
<text x="176.85" y="595.20" font-size="10.9" text-anchor="start" textLength="23.80" lengthAdjust="spacingAndGlyphs" fill="#231f20" stroke="#231f20" stroke-width="0.3" transform="rotate(0.04 176.85 595.20)">LysoPS</text>
<text x="201.85" y="595.20" font-size="10.2" text-anchor="start" textLength="33.40" lengthAdjust="spacingAndGlyphs" fill="#231f20" stroke="#231f20" stroke-width="0.3" transform="rotate(0.04 201.85 595.20)">(100μM)</text>
<text transform="translate(20.70,518.05) rotate(-89.96)" x="0" y="0" font-size="9.0" text-anchor="middle" textLength="102.5" lengthAdjust="spacingAndGlyphs" fill="#2a2a2a" stroke="#2a2a2a" stroke-width="0.1">Fold increase in reporter activities</text>
<text x="41.80" y="470.40" font-size="8.6" text-anchor="start" textLength="16.10" lengthAdjust="spacingAndGlyphs" fill="#231f20" stroke="#231f20" stroke-width="0.35" transform="rotate(0.04 41.80 470.40)">ISRE</text>
<text x="41.80" y="479.60" font-size="8.4" text-anchor="start" textLength="51.40" lengthAdjust="spacingAndGlyphs" fill="#231f20" stroke="#231f20" stroke-width="0.32" transform="rotate(0.04 41.80 479.60)">(JAK/STAT1/2)</text>
<rect x="291.35" y="569.25" width="14.00" height="6.55" fill="#c32034"/>
<line x1="298.50" y1="569.25" x2="298.50" y2="568.60" stroke="#000" stroke-width="1.0"/>
<line x1="296.30" y1="569.10" x2="300.70" y2="569.10" stroke="#000" stroke-width="1.1"/>
<rect x="313.31" y="563.75" width="14.00" height="12.05" fill="#c32034"/>
<line x1="320.50" y1="563.75" x2="320.50" y2="562.25" stroke="#000" stroke-width="1.0"/>
<line x1="318.30" y1="562.75" x2="322.70" y2="562.75" stroke="#000" stroke-width="1.1"/>
<rect x="335.27" y="564.75" width="14.00" height="11.05" fill="#c32034"/>
<line x1="342.50" y1="564.75" x2="342.50" y2="563.75" stroke="#000" stroke-width="1.0"/>
<line x1="340.30" y1="564.25" x2="344.70" y2="564.25" stroke="#000" stroke-width="1.1"/>
<rect x="357.23" y="564.00" width="14.00" height="11.80" fill="#c32034"/>
<line x1="363.50" y1="564.00" x2="363.50" y2="563.25" stroke="#000" stroke-width="1.0"/>
<line x1="361.30" y1="563.75" x2="365.70" y2="563.75" stroke="#000" stroke-width="1.1"/>
<rect x="379.19" y="562.00" width="14.00" height="13.80" fill="#c32034"/>
<line x1="385.50" y1="562.00" x2="385.50" y2="561.25" stroke="#000" stroke-width="1.0"/>
<line x1="383.30" y1="561.75" x2="387.70" y2="561.75" stroke="#000" stroke-width="1.1"/>
<rect x="401.15" y="568.40" width="14.00" height="7.40" fill="#025687"/>
<line x1="407.50" y1="568.40" x2="407.50" y2="567.30" stroke="#000" stroke-width="1.0"/>
<line x1="405.30" y1="567.80" x2="409.70" y2="567.80" stroke="#000" stroke-width="1.1"/>
<rect x="423.11" y="560.00" width="14.00" height="15.80" fill="#025687"/>
<line x1="429.50" y1="560.00" x2="429.50" y2="558.90" stroke="#000" stroke-width="1.0"/>
<line x1="427.30" y1="559.40" x2="431.70" y2="559.40" stroke="#000" stroke-width="1.1"/>
<rect x="445.07" y="560.80" width="14.00" height="15.00" fill="#025687"/>
<line x1="451.50" y1="560.80" x2="451.50" y2="560.00" stroke="#000" stroke-width="1.0"/>
<line x1="449.30" y1="560.50" x2="453.70" y2="560.50" stroke="#000" stroke-width="1.1"/>
<rect x="467.03" y="558.90" width="14.00" height="16.90" fill="#025687"/>
<line x1="473.50" y1="558.90" x2="473.50" y2="557.60" stroke="#000" stroke-width="1.0"/>
<line x1="471.30" y1="558.10" x2="475.70" y2="558.10" stroke="#000" stroke-width="1.1"/>
<rect x="488.99" y="559.50" width="14.00" height="16.30" fill="#025687"/>
<line x1="495.50" y1="559.50" x2="495.50" y2="558.40" stroke="#000" stroke-width="1.0"/>
<line x1="493.30" y1="558.90" x2="497.70" y2="558.90" stroke="#000" stroke-width="1.1"/>
<line x1="286.40" y1="461.90" x2="286.40" y2="575.80" stroke="#000" stroke-width="1.3"/>
<line x1="283.60" y1="575.80" x2="286.40" y2="575.80" stroke="#000" stroke-width="1.0"/>
<text x="283.00" y="579.35" font-size="7.2" text-anchor="end" fill="#231f20" stroke="#231f20" stroke-width="0.22" transform="rotate(0.04 283.00 579.35)">0</text>
<line x1="283.60" y1="561.64" x2="286.40" y2="561.64" stroke="#000" stroke-width="1.0"/>
<text x="283.00" y="564.69" font-size="7.2" text-anchor="end" fill="#231f20" stroke="#231f20" stroke-width="0.22" transform="rotate(0.04 283.00 564.69)">2</text>
<line x1="283.60" y1="547.47" x2="286.40" y2="547.47" stroke="#000" stroke-width="1.0"/>
<text x="283.00" y="550.52" font-size="7.2" text-anchor="end" fill="#231f20" stroke="#231f20" stroke-width="0.22" transform="rotate(0.04 283.00 550.52)">4</text>
<line x1="283.60" y1="533.31" x2="286.40" y2="533.31" stroke="#000" stroke-width="1.0"/>
<text x="283.00" y="536.36" font-size="7.2" text-anchor="end" fill="#231f20" stroke="#231f20" stroke-width="0.22" transform="rotate(0.04 283.00 536.36)">6</text>
<line x1="283.60" y1="519.15" x2="286.40" y2="519.15" stroke="#000" stroke-width="1.0"/>
<text x="283.00" y="522.20" font-size="7.2" text-anchor="end" fill="#231f20" stroke="#231f20" stroke-width="0.22" transform="rotate(0.04 283.00 522.20)">8</text>
<line x1="283.60" y1="504.99" x2="286.40" y2="504.99" stroke="#000" stroke-width="1.0"/>
<text x="283.00" y="508.04" font-size="7.2" text-anchor="end" fill="#231f20" stroke="#231f20" stroke-width="0.22" transform="rotate(0.04 283.00 508.04)">10</text>
<line x1="283.60" y1="490.82" x2="286.40" y2="490.82" stroke="#000" stroke-width="1.0"/>
<text x="283.00" y="493.88" font-size="7.2" text-anchor="end" fill="#231f20" stroke="#231f20" stroke-width="0.22" transform="rotate(0.04 283.00 493.88)">12</text>
<line x1="283.60" y1="476.66" x2="286.40" y2="476.66" stroke="#000" stroke-width="1.0"/>
<text x="283.00" y="479.71" font-size="7.2" text-anchor="end" fill="#231f20" stroke="#231f20" stroke-width="0.22" transform="rotate(0.04 283.00 479.71)">14</text>
<line x1="283.60" y1="462.50" x2="286.40" y2="462.50" stroke="#000" stroke-width="1.0"/>
<text x="283.00" y="465.55" font-size="7.2" text-anchor="end" fill="#231f20" stroke="#231f20" stroke-width="0.22" transform="rotate(0.04 283.00 465.55)">16</text>
<line x1="285.75" y1="575.80" x2="506.20" y2="575.80" stroke="#000" stroke-width="1.3"/>
<text x="298.55" y="582.50" font-size="6.2" text-anchor="middle" textLength="18.30" lengthAdjust="spacingAndGlyphs" fill="#231f20" stroke="#231f20" stroke-width="0.1" transform="rotate(0.04 298.55 582.50)">control</text>
<text x="320.21" y="582.50" font-size="6.2" text-anchor="middle" textLength="8.70" lengthAdjust="spacingAndGlyphs" fill="#231f20" stroke="#231f20" stroke-width="0.1" transform="rotate(0.04 320.21 582.50)">WT</text>
<text x="341.17" y="582.50" font-size="6.2" text-anchor="middle" textLength="13.80" lengthAdjust="spacingAndGlyphs" fill="#231f20" stroke="#231f20" stroke-width="0.1" transform="rotate(0.04 341.17 582.50)">R84H</text>
<text x="364.23" y="582.50" font-size="6.2" text-anchor="middle" textLength="17.60" lengthAdjust="spacingAndGlyphs" fill="#231f20" stroke="#231f20" stroke-width="0.1" transform="rotate(0.04 364.23 582.50)">D151A</text>
<text x="387.79" y="582.50" font-size="6.2" text-anchor="middle" textLength="17.60" lengthAdjust="spacingAndGlyphs" fill="#231f20" stroke="#231f20" stroke-width="0.1" transform="rotate(0.04 387.79 582.50)">Q340X</text>
<text x="408.05" y="582.50" font-size="6.2" text-anchor="middle" textLength="18.30" lengthAdjust="spacingAndGlyphs" fill="#231f20" stroke="#231f20" stroke-width="0.1" transform="rotate(0.04 408.05 582.50)">control</text>
<text x="428.51" y="582.50" font-size="6.2" text-anchor="middle" textLength="8.70" lengthAdjust="spacingAndGlyphs" fill="#231f20" stroke="#231f20" stroke-width="0.1" transform="rotate(0.04 428.51 582.50)">WT</text>
<text x="449.77" y="582.50" font-size="6.2" text-anchor="middle" textLength="13.80" lengthAdjust="spacingAndGlyphs" fill="#231f20" stroke="#231f20" stroke-width="0.1" transform="rotate(0.04 449.77 582.50)">R84H</text>
<text x="474.03" y="582.50" font-size="6.2" text-anchor="middle" textLength="17.60" lengthAdjust="spacingAndGlyphs" fill="#231f20" stroke="#231f20" stroke-width="0.1" transform="rotate(0.04 474.03 582.50)">D151A</text>
<text x="496.19" y="582.50" font-size="6.2" text-anchor="middle" textLength="17.60" lengthAdjust="spacingAndGlyphs" fill="#231f20" stroke="#231f20" stroke-width="0.1" transform="rotate(0.04 496.19 582.50)">Q340X</text>
<line x1="401.25" y1="585.90" x2="503.19" y2="585.90" stroke="#000" stroke-width="1.3"/>
<line x1="419.05" y1="592.50" x2="424.25" y2="592.50" stroke="#231f20" stroke-width="1.0"/>
<line x1="421.65" y1="589.90" x2="421.65" y2="595.10" stroke="#231f20" stroke-width="1.0"/>
<text x="425.45" y="595.20" font-size="10.9" text-anchor="start" textLength="23.80" lengthAdjust="spacingAndGlyphs" fill="#231f20" stroke="#231f20" stroke-width="0.3" transform="rotate(0.04 425.45 595.20)">LysoPS</text>
<text x="450.45" y="595.20" font-size="10.2" text-anchor="start" textLength="33.40" lengthAdjust="spacingAndGlyphs" fill="#231f20" stroke="#231f20" stroke-width="0.3" transform="rotate(0.04 450.45 595.20)">(100μM)</text>
<text transform="translate(273.10,518.10) rotate(-89.96)" x="0" y="0" font-size="9.0" text-anchor="middle" textLength="102.5" lengthAdjust="spacingAndGlyphs" fill="#2a2a2a" stroke="#2a2a2a" stroke-width="0.1">Fold increase in reporter activities</text>
<text x="291.10" y="470.10" font-size="8.6" text-anchor="start" textLength="42.70" lengthAdjust="spacingAndGlyphs" fill="#231f20" stroke="#231f20" stroke-width="0.35" transform="rotate(0.04 291.10 470.10)">TCF/LEF-RE</text>
<text x="291.10" y="480.40" font-size="8.4" text-anchor="start" textLength="54.40" lengthAdjust="spacingAndGlyphs" fill="#231f20" stroke="#231f20" stroke-width="0.32" transform="rotate(0.04 291.10 480.40)">(Wnt/β-catenin)</text>
<rect x="42.90" y="718.50" width="14.10" height="7.50" fill="#c32034"/>
<line x1="49.50" y1="718.50" x2="49.50" y2="718.00" stroke="#000" stroke-width="1.0"/>
<line x1="47.30" y1="718.50" x2="51.70" y2="718.50" stroke="#000" stroke-width="1.1"/>
<rect x="64.83" y="719.00" width="14.10" height="7.00" fill="#c32034"/>
<line x1="71.50" y1="719.00" x2="71.50" y2="717.50" stroke="#000" stroke-width="1.0"/>
<line x1="69.30" y1="718.00" x2="73.70" y2="718.00" stroke="#000" stroke-width="1.1"/>
<rect x="86.76" y="720.00" width="14.10" height="6.00" fill="#c32034"/>
<line x1="93.50" y1="720.00" x2="93.50" y2="718.00" stroke="#000" stroke-width="1.0"/>
<line x1="91.30" y1="718.50" x2="95.70" y2="718.50" stroke="#000" stroke-width="1.1"/>
<rect x="108.69" y="719.50" width="14.10" height="6.50" fill="#c32034"/>
<line x1="115.50" y1="719.50" x2="115.50" y2="717.00" stroke="#000" stroke-width="1.0"/>
<line x1="113.30" y1="717.50" x2="117.70" y2="717.50" stroke="#000" stroke-width="1.1"/>
<rect x="130.62" y="717.70" width="14.10" height="8.30" fill="#c32034"/>
<line x1="137.50" y1="717.70" x2="137.50" y2="715.50" stroke="#000" stroke-width="1.0"/>
<line x1="135.30" y1="716.00" x2="139.70" y2="716.00" stroke="#000" stroke-width="1.1"/>
<rect x="152.55" y="719.80" width="14.10" height="6.20" fill="#025687"/>
<line x1="159.50" y1="719.80" x2="159.50" y2="717.40" stroke="#000" stroke-width="1.0"/>
<line x1="157.30" y1="717.90" x2="161.70" y2="717.90" stroke="#000" stroke-width="1.1"/>
<rect x="174.48" y="717.10" width="14.10" height="8.90" fill="#025687"/>
<line x1="181.50" y1="717.10" x2="181.50" y2="716.60" stroke="#000" stroke-width="1.0"/>
<line x1="179.30" y1="717.10" x2="183.70" y2="717.10" stroke="#000" stroke-width="1.1"/>
<rect x="196.41" y="718.20" width="14.10" height="7.80" fill="#025687"/>
<line x1="203.50" y1="718.20" x2="203.50" y2="715.00" stroke="#000" stroke-width="1.0"/>
<line x1="201.30" y1="715.50" x2="205.70" y2="715.50" stroke="#000" stroke-width="1.1"/>
<rect x="218.34" y="719.50" width="14.10" height="6.50" fill="#025687"/>
<line x1="225.50" y1="719.50" x2="225.50" y2="717.70" stroke="#000" stroke-width="1.0"/>
<line x1="223.30" y1="718.20" x2="227.70" y2="718.20" stroke="#000" stroke-width="1.1"/>
<rect x="240.27" y="717.10" width="14.10" height="8.90" fill="#025687"/>
<line x1="247.50" y1="717.10" x2="247.50" y2="714.70" stroke="#000" stroke-width="1.0"/>
<line x1="245.30" y1="715.20" x2="249.70" y2="715.20" stroke="#000" stroke-width="1.1"/>
<line x1="38.10" y1="611.40" x2="38.10" y2="726.00" stroke="#000" stroke-width="1.3"/>
<line x1="35.30" y1="726.00" x2="38.10" y2="726.00" stroke="#000" stroke-width="1.0"/>
<text x="34.70" y="729.55" font-size="7.2" text-anchor="end" fill="#231f20" stroke="#231f20" stroke-width="0.22" transform="rotate(0.04 34.70 729.55)">0</text>
<line x1="35.30" y1="711.75" x2="38.10" y2="711.75" stroke="#000" stroke-width="1.0"/>
<text x="34.70" y="714.80" font-size="7.2" text-anchor="end" fill="#231f20" stroke="#231f20" stroke-width="0.22" transform="rotate(0.04 34.70 714.80)">2</text>
<line x1="35.30" y1="697.50" x2="38.10" y2="697.50" stroke="#000" stroke-width="1.0"/>
<text x="34.70" y="700.55" font-size="7.2" text-anchor="end" fill="#231f20" stroke="#231f20" stroke-width="0.22" transform="rotate(0.04 34.70 700.55)">4</text>
<line x1="35.30" y1="683.25" x2="38.10" y2="683.25" stroke="#000" stroke-width="1.0"/>
<text x="34.70" y="686.30" font-size="7.2" text-anchor="end" fill="#231f20" stroke="#231f20" stroke-width="0.22" transform="rotate(0.04 34.70 686.30)">6</text>
<line x1="35.30" y1="669.00" x2="38.10" y2="669.00" stroke="#000" stroke-width="1.0"/>
<text x="34.70" y="672.05" font-size="7.2" text-anchor="end" fill="#231f20" stroke="#231f20" stroke-width="0.22" transform="rotate(0.04 34.70 672.05)">8</text>
<line x1="35.30" y1="654.75" x2="38.10" y2="654.75" stroke="#000" stroke-width="1.0"/>
<text x="34.70" y="657.80" font-size="7.2" text-anchor="end" fill="#231f20" stroke="#231f20" stroke-width="0.22" transform="rotate(0.04 34.70 657.80)">10</text>
<line x1="35.30" y1="640.50" x2="38.10" y2="640.50" stroke="#000" stroke-width="1.0"/>
<text x="34.70" y="643.55" font-size="7.2" text-anchor="end" fill="#231f20" stroke="#231f20" stroke-width="0.22" transform="rotate(0.04 34.70 643.55)">12</text>
<line x1="35.30" y1="626.25" x2="38.10" y2="626.25" stroke="#000" stroke-width="1.0"/>
<text x="34.70" y="629.30" font-size="7.2" text-anchor="end" fill="#231f20" stroke="#231f20" stroke-width="0.22" transform="rotate(0.04 34.70 629.30)">14</text>
<line x1="35.30" y1="612.00" x2="38.10" y2="612.00" stroke="#000" stroke-width="1.0"/>
<text x="34.70" y="615.05" font-size="7.2" text-anchor="end" fill="#231f20" stroke="#231f20" stroke-width="0.22" transform="rotate(0.04 34.70 615.05)">16</text>
<line x1="37.45" y1="726.00" x2="257.50" y2="726.00" stroke="#000" stroke-width="1.3"/>
<text x="50.15" y="732.70" font-size="6.2" text-anchor="middle" textLength="18.30" lengthAdjust="spacingAndGlyphs" fill="#231f20" stroke="#231f20" stroke-width="0.1" transform="rotate(0.04 50.15 732.70)">control</text>
<text x="71.78" y="732.70" font-size="6.2" text-anchor="middle" textLength="8.70" lengthAdjust="spacingAndGlyphs" fill="#231f20" stroke="#231f20" stroke-width="0.1" transform="rotate(0.04 71.78 732.70)">WT</text>
<text x="92.71" y="732.70" font-size="6.2" text-anchor="middle" textLength="13.80" lengthAdjust="spacingAndGlyphs" fill="#231f20" stroke="#231f20" stroke-width="0.1" transform="rotate(0.04 92.71 732.70)">R84H</text>
<text x="115.74" y="732.70" font-size="6.2" text-anchor="middle" textLength="17.60" lengthAdjust="spacingAndGlyphs" fill="#231f20" stroke="#231f20" stroke-width="0.1" transform="rotate(0.04 115.74 732.70)">D151A</text>
<text x="139.27" y="732.70" font-size="6.2" text-anchor="middle" textLength="17.60" lengthAdjust="spacingAndGlyphs" fill="#231f20" stroke="#231f20" stroke-width="0.1" transform="rotate(0.04 139.27 732.70)">Q340X</text>
<text x="159.50" y="732.70" font-size="6.2" text-anchor="middle" textLength="18.30" lengthAdjust="spacingAndGlyphs" fill="#231f20" stroke="#231f20" stroke-width="0.1" transform="rotate(0.04 159.50 732.70)">control</text>
<text x="179.93" y="732.70" font-size="6.2" text-anchor="middle" textLength="8.70" lengthAdjust="spacingAndGlyphs" fill="#231f20" stroke="#231f20" stroke-width="0.1" transform="rotate(0.04 179.93 732.70)">WT</text>
<text x="201.16" y="732.70" font-size="6.2" text-anchor="middle" textLength="13.80" lengthAdjust="spacingAndGlyphs" fill="#231f20" stroke="#231f20" stroke-width="0.1" transform="rotate(0.04 201.16 732.70)">R84H</text>
<text x="225.39" y="732.70" font-size="6.2" text-anchor="middle" textLength="17.60" lengthAdjust="spacingAndGlyphs" fill="#231f20" stroke="#231f20" stroke-width="0.1" transform="rotate(0.04 225.39 732.70)">D151A</text>
<text x="247.52" y="732.70" font-size="6.2" text-anchor="middle" textLength="17.60" lengthAdjust="spacingAndGlyphs" fill="#231f20" stroke="#231f20" stroke-width="0.1" transform="rotate(0.04 247.52 732.70)">Q340X</text>
<line x1="152.65" y1="736.10" x2="253.97" y2="736.10" stroke="#000" stroke-width="1.3"/>
<line x1="170.45" y1="742.70" x2="175.65" y2="742.70" stroke="#231f20" stroke-width="1.0"/>
<line x1="173.05" y1="740.10" x2="173.05" y2="745.30" stroke="#231f20" stroke-width="1.0"/>
<text x="176.85" y="745.40" font-size="10.9" text-anchor="start" textLength="23.80" lengthAdjust="spacingAndGlyphs" fill="#231f20" stroke="#231f20" stroke-width="0.3" transform="rotate(0.04 176.85 745.40)">LysoPS</text>
<text x="201.85" y="745.40" font-size="10.2" text-anchor="start" textLength="33.40" lengthAdjust="spacingAndGlyphs" fill="#231f20" stroke="#231f20" stroke-width="0.3" transform="rotate(0.04 201.85 745.40)">(100μM)</text>
<text transform="translate(20.70,668.35) rotate(-89.96)" x="0" y="0" font-size="9.0" text-anchor="middle" textLength="102.5" lengthAdjust="spacingAndGlyphs" fill="#2a2a2a" stroke="#2a2a2a" stroke-width="0.1">Fold increase in reporter activities</text>
<text x="42.30" y="620.60" font-size="8.6" text-anchor="start" textLength="30.30" lengthAdjust="spacingAndGlyphs" fill="#231f20" stroke="#231f20" stroke-width="0.35" transform="rotate(0.04 42.30 620.60)">NFAT-RE</text>
<text x="42.30" y="629.70" font-size="8.4" text-anchor="start" textLength="71.90" lengthAdjust="spacingAndGlyphs" fill="#231f20" stroke="#231f20" stroke-width="0.32" transform="rotate(0.04 42.30 629.70)">(calcium/calcineurin)</text>
<rect x="0.5" y="0.5" width="519" height="756" fill="none" stroke="#000" stroke-width="1"/>
<rect x="1.5" y="1.5" width="517" height="754" fill="none" stroke="#000" stroke-opacity="0.35" stroke-width="1"/>
</svg>
</body></html>
